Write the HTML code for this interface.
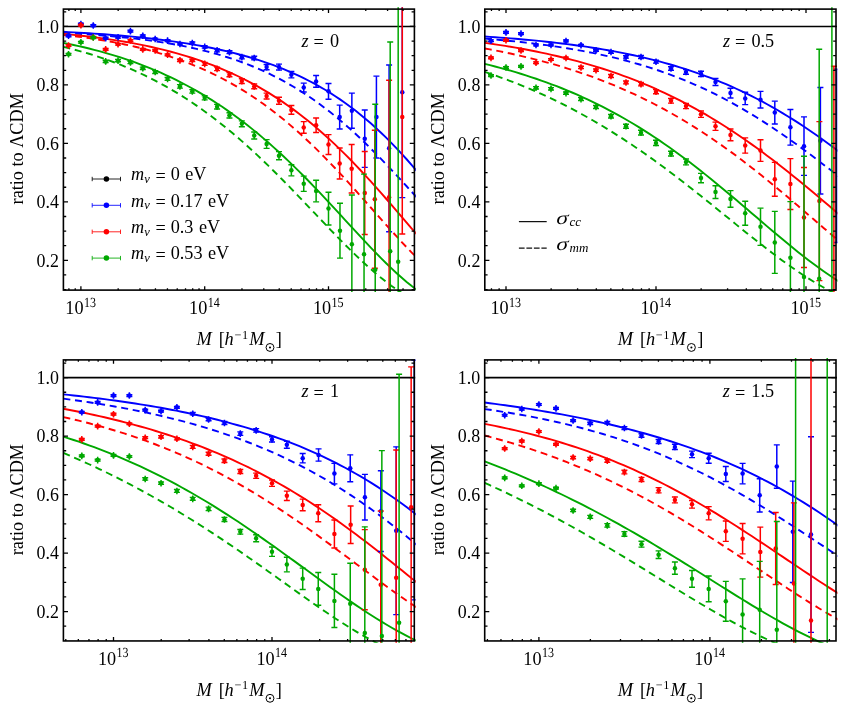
<!DOCTYPE html>
<html><head><meta charset="utf-8"><title>ratio to LCDM</title>
<style>
html,body{margin:0;padding:0;background:#fff;}
body{width:843px;height:706px;overflow:hidden;font-family:"Liberation Serif",serif;}
svg{display:block;transform:translateZ(0);will-change:transform;}
svg text{font-family:"Liberation Serif",serif;fill:#000;stroke:none;}
svg text.gp{text-rendering:geometricPrecision;}
</style></head><body>
<svg width="843" height="706" viewBox="0 0 843 706">
<rect width="843" height="706" fill="#fff"/>
<clipPath id="clip0"><rect x="62.2" y="7.2" width="353.6" height="284.8"/></clipPath>
<g clip-path="url(#clip0)">
<line x1="63.4" y1="26.45" x2="415.4" y2="26.45" stroke="#000" stroke-width="1.6"/>
<path d="M63.4,31.81 L68.52,32.08 L73.65,32.35 L78.77,32.64 L83.89,32.94 L89.01,33.26 L94.14,33.59 L99.26,33.94 L104.38,34.3 L109.51,34.69 L114.63,35.09 L119.75,35.51 L124.87,35.96 L130,36.42 L135.12,36.91 L140.24,37.43 L145.37,37.96 L150.49,38.53 L155.61,39.13 L160.73,39.75 L165.86,40.4 L170.98,41.09 L176.1,41.82 L181.23,42.58 L186.35,43.37 L191.47,44.21 L196.59,45.09 L201.72,46.02 L206.84,46.99 L211.96,48.01 L217.09,49.09 L222.21,50.22 L227.33,51.4 L232.45,52.65 L237.58,53.96 L242.7,55.33 L247.82,56.78 L252.95,58.3 L258.07,59.89 L263.19,61.57 L268.31,63.33 L273.44,65.18 L278.56,67.12 L283.68,69.16 L288.8,71.31 L293.93,73.55 L299.05,75.91 L304.17,78.39 L309.3,80.99 L314.42,83.71 L319.54,86.56 L324.66,89.55 L329.79,92.68 L334.91,95.95 L340.03,99.38 L345.16,102.96 L350.28,106.7 L355.4,110.6 L360.52,114.68 L365.65,118.92 L370.77,123.34 L375.89,127.94 L381.02,132.71 L386.14,137.67 L391.26,142.8 L396.38,148.11 L401.51,153.6 L406.63,159.26 L411.75,165.08 L416.88,171.06" fill="none" stroke="#0000ff" stroke-width="1.9"/>
<path d="M63.4,32.86 L68.52,33.14 L73.65,33.44 L78.77,33.75 L83.89,34.08 L89.01,34.43 L94.14,34.8 L99.26,35.19 L104.38,35.6 L109.51,36.04 L114.63,36.5 L119.75,36.99 L124.87,37.51 L130,38.06 L135.12,38.64 L140.24,39.26 L145.37,39.91 L150.49,40.6 L155.61,41.33 L160.73,42.11 L165.86,42.92 L170.98,43.79 L176.1,44.7 L181.23,45.67 L186.35,46.69 L191.47,47.77 L196.59,48.91 L201.72,50.12 L206.84,51.39 L211.96,52.74 L217.09,54.16 L222.21,55.66 L227.33,57.24 L232.45,58.9 L237.58,60.66 L242.7,62.51 L247.82,64.46 L252.95,66.5 L258.07,68.66 L263.19,70.92 L268.31,73.29 L273.44,75.78 L278.56,78.4 L283.68,81.13 L288.8,84 L293.93,86.99 L299.05,90.12 L304.17,93.39 L309.3,96.79 L314.42,100.34 L319.54,104.02 L324.66,107.85 L329.79,111.82 L334.91,115.93 L340.03,120.19 L345.16,124.58 L350.28,129.11 L355.4,133.78 L360.52,138.57 L365.65,143.48 L370.77,148.52 L375.89,153.66 L381.02,158.9 L386.14,164.24 L391.26,169.65 L396.38,175.13 L401.51,180.68 L406.63,186.26 L411.75,191.87 L416.88,197.5" fill="none" stroke="#0000ff" stroke-width="1.9" stroke-dasharray="7,4.7"/>
<path d="M63.4,33.91 L68.52,34.4 L73.65,34.9 L78.77,35.44 L83.89,36 L89.01,36.6 L94.14,37.23 L99.26,37.89 L104.38,38.59 L109.51,39.33 L114.63,40.1 L119.75,40.92 L124.87,41.78 L130,42.68 L135.12,43.63 L140.24,44.62 L145.37,45.67 L150.49,46.77 L155.61,47.93 L160.73,49.14 L165.86,50.41 L170.98,51.75 L176.1,53.15 L181.23,54.61 L186.35,56.15 L191.47,57.76 L196.59,59.44 L201.72,61.21 L206.84,63.05 L211.96,64.98 L217.09,67 L222.21,69.1 L227.33,71.3 L232.45,73.6 L237.58,76 L242.7,78.5 L247.82,81.11 L252.95,83.82 L258.07,86.66 L263.19,89.6 L268.31,92.67 L273.44,95.85 L278.56,99.17 L283.68,102.61 L288.8,106.18 L293.93,109.88 L299.05,113.71 L304.17,117.68 L309.3,121.79 L314.42,126.03 L319.54,130.42 L324.66,134.94 L329.79,139.59 L334.91,144.38 L340.03,149.31 L345.16,154.36 L350.28,159.54 L355.4,164.84 L360.52,170.25 L365.65,175.78 L370.77,181.4 L375.89,187.11 L381.02,192.9 L386.14,198.75 L391.26,204.66 L396.38,210.61 L401.51,216.58 L406.63,222.55 L411.75,228.51 L416.88,234.43" fill="none" stroke="#ff0000" stroke-width="1.9"/>
<path d="M63.4,34.94 L68.52,35.51 L73.65,36.11 L78.77,36.75 L83.89,37.43 L89.01,38.15 L94.14,38.91 L99.26,39.71 L104.38,40.56 L109.51,41.45 L114.63,42.4 L119.75,43.39 L124.87,44.45 L130,45.55 L135.12,46.72 L140.24,47.95 L145.37,49.25 L150.49,50.61 L155.61,52.05 L160.73,53.55 L165.86,55.14 L170.98,56.8 L176.1,58.55 L181.23,60.38 L186.35,62.3 L191.47,64.31 L196.59,66.41 L201.72,68.62 L206.84,70.92 L211.96,73.34 L217.09,75.85 L222.21,78.48 L227.33,81.22 L232.45,84.08 L237.58,87.06 L242.7,90.16 L247.82,93.39 L252.95,96.74 L258.07,100.22 L263.19,103.83 L268.31,107.57 L273.44,111.44 L278.56,115.45 L283.68,119.59 L288.8,123.87 L293.93,128.27 L299.05,132.81 L304.17,137.48 L309.3,142.27 L314.42,147.19 L319.54,152.22 L324.66,157.37 L329.79,162.63 L334.91,167.98 L340.03,173.43 L345.16,178.97 L350.28,184.57 L355.4,190.24 L360.52,195.96 L365.65,201.72 L370.77,207.5 L375.89,213.29 L381.02,219.08 L386.14,224.84 L391.26,230.55 L396.38,236.21 L401.51,241.79 L406.63,247.27 L411.75,252.64 L416.88,257.87" fill="none" stroke="#ff0000" stroke-width="1.9" stroke-dasharray="7,4.7"/>
<path d="M63.4,42.9 L68.52,43.92 L73.65,44.99 L78.77,46.12 L83.89,47.29 L89.01,48.52 L94.14,49.81 L99.26,51.16 L104.38,52.57 L109.51,54.05 L114.63,55.59 L119.75,57.19 L124.87,58.87 L130,60.62 L135.12,62.44 L140.24,64.34 L145.37,66.32 L150.49,68.38 L155.61,70.52 L160.73,72.74 L165.86,75.05 L170.98,77.45 L176.1,79.95 L181.23,82.53 L186.35,85.22 L191.47,87.99 L196.59,90.87 L201.72,93.85 L206.84,96.94 L211.96,100.13 L217.09,103.43 L222.21,106.83 L227.33,110.35 L232.45,113.98 L237.58,117.72 L242.7,121.58 L247.82,125.54 L252.95,129.63 L258.07,133.82 L263.19,138.14 L268.31,142.56 L273.44,147.09 L278.56,151.74 L283.68,156.49 L288.8,161.35 L293.93,166.31 L299.05,171.36 L304.17,176.51 L309.3,181.74 L314.42,187.05 L319.54,192.43 L324.66,197.87 L329.79,203.36 L334.91,208.9 L340.03,214.46 L345.16,220.04 L350.28,225.61 L355.4,231.17 L360.52,236.7 L365.65,242.19 L370.77,247.6 L375.89,252.93 L381.02,258.15 L386.14,263.24 L391.26,268.18 L396.38,272.96 L401.51,277.55 L406.63,281.94 L411.75,286.09 L416.88,290.01" fill="none" stroke="#00a800" stroke-width="1.9"/>
<path d="M63.4,46.86 L68.52,48.11 L73.65,49.43 L78.77,50.81 L83.89,52.26 L89.01,53.78 L94.14,55.37 L99.26,57.04 L104.38,58.78 L109.51,60.59 L114.63,62.49 L119.75,64.48 L124.87,66.54 L130,68.7 L135.12,70.95 L140.24,73.28 L145.37,75.72 L150.49,78.24 L155.61,80.87 L160.73,83.6 L165.86,86.43 L170.98,89.36 L176.1,92.4 L181.23,95.54 L186.35,98.8 L191.47,102.16 L196.59,105.64 L201.72,109.22 L206.84,112.92 L211.96,116.73 L217.09,120.65 L222.21,124.68 L227.33,128.82 L232.45,133.07 L237.58,137.43 L242.7,141.89 L247.82,146.46 L252.95,151.13 L258.07,155.89 L263.19,160.74 L268.31,165.68 L273.44,170.71 L278.56,175.8 L283.68,180.97 L288.8,186.2 L293.93,191.48 L299.05,196.8 L304.17,202.16 L309.3,207.54 L314.42,212.93 L319.54,218.32 L324.66,223.7 L329.79,229.05 L334.91,234.35 L340.03,239.6 L345.16,244.78 L350.28,249.88 L355.4,254.87 L360.52,259.74 L365.65,264.48 L370.77,269.07 L375.89,273.49 L381.02,277.74 L386.14,281.79 L391.26,285.65 L396.38,289.28 L401.51,292.7 L406.63,295.88 L411.75,298.83 L416.88,301.54" fill="none" stroke="#00a800" stroke-width="1.9" stroke-dasharray="7,4.7"/>
<path d="M68.52,32.51 V39.11" stroke="#0000ff" stroke-width="1.5" fill="none"/>
<path d="M65.52,34.93 H71.52 M65.52,36.68 H71.52" stroke="#0000ff" stroke-width="1.4" fill="none"/>
<circle cx="68.52" cy="35.81" r="2.25" fill="#0000ff"/>
<path d="M80.9,20.81 V27.41" stroke="#0000ff" stroke-width="1.5" fill="none"/>
<path d="M77.9,23.23 H83.9 M77.9,24.99 H83.9" stroke="#0000ff" stroke-width="1.4" fill="none"/>
<circle cx="80.9" cy="24.11" r="2.25" fill="#0000ff"/>
<path d="M93.28,22.27 V28.87" stroke="#0000ff" stroke-width="1.5" fill="none"/>
<path d="M90.28,24.7 H96.28 M90.28,26.45 H96.28" stroke="#0000ff" stroke-width="1.4" fill="none"/>
<circle cx="93.28" cy="25.57" r="2.25" fill="#0000ff"/>
<path d="M105.66,34.84 V41.44" stroke="#0000ff" stroke-width="1.5" fill="none"/>
<path d="M102.66,37.27 H108.66 M102.66,39.02 H108.66" stroke="#0000ff" stroke-width="1.4" fill="none"/>
<circle cx="105.66" cy="38.14" r="2.25" fill="#0000ff"/>
<path d="M118.04,33.97 V40.57" stroke="#0000ff" stroke-width="1.5" fill="none"/>
<path d="M115.04,36.39 H121.04 M115.04,38.14 H121.04" stroke="#0000ff" stroke-width="1.4" fill="none"/>
<circle cx="118.04" cy="37.27" r="2.25" fill="#0000ff"/>
<path d="M130.42,27.83 V34.43" stroke="#0000ff" stroke-width="1.5" fill="none"/>
<path d="M127.42,30.25 H133.42 M127.42,32 H133.42" stroke="#0000ff" stroke-width="1.4" fill="none"/>
<circle cx="130.42" cy="31.13" r="2.25" fill="#0000ff"/>
<path d="M142.8,32.51 V39.11" stroke="#0000ff" stroke-width="1.5" fill="none"/>
<path d="M139.8,34.93 H145.8 M139.8,36.68 H145.8" stroke="#0000ff" stroke-width="1.4" fill="none"/>
<circle cx="142.8" cy="35.81" r="2.25" fill="#0000ff"/>
<path d="M155.18,35.72 V42.32" stroke="#0000ff" stroke-width="1.5" fill="none"/>
<path d="M152.18,38.14 H158.18 M152.18,39.9 H158.18" stroke="#0000ff" stroke-width="1.4" fill="none"/>
<circle cx="155.18" cy="39.02" r="2.25" fill="#0000ff"/>
<path d="M167.56,37.33 V43.93" stroke="#0000ff" stroke-width="1.5" fill="none"/>
<path d="M164.56,39.75 H170.56 M164.56,41.51 H170.56" stroke="#0000ff" stroke-width="1.4" fill="none"/>
<circle cx="167.56" cy="40.63" r="2.25" fill="#0000ff"/>
<path d="M179.94,40.69 V47.29" stroke="#0000ff" stroke-width="1.5" fill="none"/>
<path d="M176.94,43.11 H182.94 M176.94,44.87 H182.94" stroke="#0000ff" stroke-width="1.4" fill="none"/>
<circle cx="179.94" cy="43.99" r="2.25" fill="#0000ff"/>
<path d="M192.32,39.81 V46.41" stroke="#0000ff" stroke-width="1.5" fill="none"/>
<path d="M189.32,41.94 H195.32 M189.32,44.28 H195.32" stroke="#0000ff" stroke-width="1.4" fill="none"/>
<circle cx="192.32" cy="43.11" r="2.25" fill="#0000ff"/>
<path d="M204.7,43.61 V50.21" stroke="#0000ff" stroke-width="1.5" fill="none"/>
<path d="M201.7,45.75 H207.7 M201.7,48.08 H207.7" stroke="#0000ff" stroke-width="1.4" fill="none"/>
<circle cx="204.7" cy="46.91" r="2.25" fill="#0000ff"/>
<path d="M217.08,47.12 V53.72" stroke="#0000ff" stroke-width="1.5" fill="none"/>
<path d="M214.08,48.96 H220.08 M214.08,51.88 H220.08" stroke="#0000ff" stroke-width="1.4" fill="none"/>
<circle cx="217.08" cy="50.42" r="2.25" fill="#0000ff"/>
<path d="M229.46,48.88 V55.48" stroke="#0000ff" stroke-width="1.5" fill="none"/>
<path d="M226.46,50.72 H232.46 M226.46,53.64 H232.46" stroke="#0000ff" stroke-width="1.4" fill="none"/>
<circle cx="229.46" cy="52.18" r="2.25" fill="#0000ff"/>
<path d="M241.84,53.85 V60.45" stroke="#0000ff" stroke-width="1.5" fill="none"/>
<path d="M238.84,55.39 H244.84 M238.84,58.9 H244.84" stroke="#0000ff" stroke-width="1.4" fill="none"/>
<circle cx="241.84" cy="57.15" r="2.25" fill="#0000ff"/>
<path d="M254.22,54.72 V61.32" stroke="#0000ff" stroke-width="1.5" fill="none"/>
<path d="M251.22,56.27 H257.22 M251.22,59.78 H257.22" stroke="#0000ff" stroke-width="1.4" fill="none"/>
<circle cx="254.22" cy="58.02" r="2.25" fill="#0000ff"/>
<path d="M266.6,63.79 V70.39" stroke="#0000ff" stroke-width="1.5" fill="none"/>
<path d="M263.6,64.46 H269.6 M263.6,69.72 H269.6" stroke="#0000ff" stroke-width="1.4" fill="none"/>
<circle cx="266.6" cy="67.09" r="2.25" fill="#0000ff"/>
<path d="M278.98,63.79 V70.39" stroke="#0000ff" stroke-width="1.5" fill="none"/>
<path d="M275.98,64.16 H281.98 M275.98,70.01 H281.98" stroke="#0000ff" stroke-width="1.4" fill="none"/>
<circle cx="278.98" cy="67.09" r="2.25" fill="#0000ff"/>
<path d="M291.36,71.39 V77.99" stroke="#0000ff" stroke-width="1.5" fill="none"/>
<path d="M288.36,71.47 H294.36 M288.36,77.9 H294.36" stroke="#0000ff" stroke-width="1.4" fill="none"/>
<circle cx="291.36" cy="74.69" r="2.25" fill="#0000ff"/>
<path d="M303.74,83.17 V91.94" stroke="#0000ff" stroke-width="1.5" fill="none"/>
<path d="M300.74,83.17 H306.74 M300.74,91.94 H306.74" stroke="#0000ff" stroke-width="1.4" fill="none"/>
<circle cx="303.74" cy="87.55" r="2.25" fill="#0000ff"/>
<path d="M316.12,75.56 V87.26" stroke="#0000ff" stroke-width="1.5" fill="none"/>
<path d="M313.12,75.56 H319.12 M313.12,87.26 H319.12" stroke="#0000ff" stroke-width="1.4" fill="none"/>
<circle cx="316.12" cy="81.41" r="2.25" fill="#0000ff"/>
<path d="M328.5,83.46 V99.25" stroke="#0000ff" stroke-width="1.5" fill="none"/>
<path d="M325.5,83.46 H331.5 M325.5,99.25 H331.5" stroke="#0000ff" stroke-width="1.4" fill="none"/>
<circle cx="328.5" cy="91.35" r="2.25" fill="#0000ff"/>
<path d="M339.68,105.09 V129.06" stroke="#0000ff" stroke-width="1.5" fill="none"/>
<path d="M336.68,105.09 H342.68 M336.68,129.06 H342.68" stroke="#0000ff" stroke-width="1.4" fill="none"/>
<circle cx="339.68" cy="117.08" r="2.25" fill="#0000ff"/>
<path d="M351.86,93.11 V128.19" stroke="#0000ff" stroke-width="1.5" fill="none"/>
<path d="M348.86,93.11 H354.86 M348.86,128.19 H354.86" stroke="#0000ff" stroke-width="1.4" fill="none"/>
<circle cx="351.86" cy="110.65" r="2.25" fill="#0000ff"/>
<path d="M364.74,110.06 V167.36" stroke="#0000ff" stroke-width="1.5" fill="none"/>
<path d="M361.74,110.06 H367.74 M361.74,167.36 H367.74" stroke="#0000ff" stroke-width="1.4" fill="none"/>
<circle cx="364.74" cy="138.71" r="2.25" fill="#0000ff"/>
<path d="M376.42,76.15 V158.01" stroke="#0000ff" stroke-width="1.5" fill="none"/>
<path d="M373.42,76.15 H379.42 M373.42,158.01 H379.42" stroke="#0000ff" stroke-width="1.4" fill="none"/>
<circle cx="376.42" cy="117.08" r="2.25" fill="#0000ff"/>
<path d="M389.1,65.04 V231.68" stroke="#0000ff" stroke-width="1.5" fill="none"/>
<path d="M386.1,65.04 H392.1 M386.1,231.68 H392.1" stroke="#0000ff" stroke-width="1.4" fill="none"/>
<circle cx="389.1" cy="148.36" r="2.25" fill="#0000ff"/>
<path d="M402.28,-12.9 V197.59" stroke="#0000ff" stroke-width="1.5" fill="none"/>
<path d="M399.28,-12.9 H405.28 M399.28,197.59 H405.28" stroke="#0000ff" stroke-width="1.4" fill="none"/>
<circle cx="402.28" cy="92.35" r="2.25" fill="#0000ff"/>
<path d="M68.52,42.15 V48.75" stroke="#ff0000" stroke-width="1.5" fill="none"/>
<path d="M65.52,44.58 H71.52 M65.52,46.33 H71.52" stroke="#ff0000" stroke-width="1.4" fill="none"/>
<circle cx="68.52" cy="45.45" r="2.25" fill="#ff0000"/>
<path d="M80.9,21.98 V28.58" stroke="#ff0000" stroke-width="1.5" fill="none"/>
<path d="M77.9,24.4 H83.9 M77.9,26.16 H83.9" stroke="#ff0000" stroke-width="1.4" fill="none"/>
<circle cx="80.9" cy="25.28" r="2.25" fill="#ff0000"/>
<path d="M93.28,33.97 V40.57" stroke="#ff0000" stroke-width="1.5" fill="none"/>
<path d="M90.28,36.39 H96.28 M90.28,38.14 H96.28" stroke="#ff0000" stroke-width="1.4" fill="none"/>
<circle cx="93.28" cy="37.27" r="2.25" fill="#ff0000"/>
<path d="M105.66,46.1 V52.7" stroke="#ff0000" stroke-width="1.5" fill="none"/>
<path d="M102.66,48.52 H108.66 M102.66,50.28 H108.66" stroke="#ff0000" stroke-width="1.4" fill="none"/>
<circle cx="105.66" cy="49.4" r="2.25" fill="#ff0000"/>
<path d="M118.04,40.98 V47.58" stroke="#ff0000" stroke-width="1.5" fill="none"/>
<path d="M115.04,43.41 H121.04 M115.04,45.16 H121.04" stroke="#ff0000" stroke-width="1.4" fill="none"/>
<circle cx="118.04" cy="44.28" r="2.25" fill="#ff0000"/>
<path d="M130.42,37.18 V43.78" stroke="#ff0000" stroke-width="1.5" fill="none"/>
<path d="M127.42,39.61 H133.42 M127.42,41.36 H133.42" stroke="#ff0000" stroke-width="1.4" fill="none"/>
<circle cx="130.42" cy="40.48" r="2.25" fill="#ff0000"/>
<path d="M142.8,46.1 V52.7" stroke="#ff0000" stroke-width="1.5" fill="none"/>
<path d="M139.8,48.52 H145.8 M139.8,50.28 H145.8" stroke="#ff0000" stroke-width="1.4" fill="none"/>
<circle cx="142.8" cy="49.4" r="2.25" fill="#ff0000"/>
<path d="M155.18,47.12 V53.72" stroke="#ff0000" stroke-width="1.5" fill="none"/>
<path d="M152.18,49.55 H158.18 M152.18,51.3 H158.18" stroke="#ff0000" stroke-width="1.4" fill="none"/>
<circle cx="155.18" cy="50.42" r="2.25" fill="#ff0000"/>
<path d="M167.56,51.51 V58.11" stroke="#ff0000" stroke-width="1.5" fill="none"/>
<path d="M164.56,53.93 H170.56 M164.56,55.68 H170.56" stroke="#ff0000" stroke-width="1.4" fill="none"/>
<circle cx="167.56" cy="54.81" r="2.25" fill="#ff0000"/>
<path d="M179.94,57.06 V63.66" stroke="#ff0000" stroke-width="1.5" fill="none"/>
<path d="M176.94,59.19 H182.94 M176.94,61.53 H182.94" stroke="#ff0000" stroke-width="1.4" fill="none"/>
<circle cx="179.94" cy="60.36" r="2.25" fill="#ff0000"/>
<path d="M192.32,57.06 V63.66" stroke="#ff0000" stroke-width="1.5" fill="none"/>
<path d="M189.32,59.19 H195.32 M189.32,61.53 H195.32" stroke="#ff0000" stroke-width="1.4" fill="none"/>
<circle cx="192.32" cy="60.36" r="2.25" fill="#ff0000"/>
<path d="M204.7,60.57 V67.17" stroke="#ff0000" stroke-width="1.5" fill="none"/>
<path d="M201.7,62.41 H207.7 M201.7,65.33 H207.7" stroke="#ff0000" stroke-width="1.4" fill="none"/>
<circle cx="204.7" cy="63.87" r="2.25" fill="#ff0000"/>
<path d="M217.08,65.54 V72.14" stroke="#ff0000" stroke-width="1.5" fill="none"/>
<path d="M214.08,67.09 H220.08 M214.08,70.59 H220.08" stroke="#ff0000" stroke-width="1.4" fill="none"/>
<circle cx="217.08" cy="68.84" r="2.25" fill="#ff0000"/>
<path d="M229.46,71.39 V77.99" stroke="#ff0000" stroke-width="1.5" fill="none"/>
<path d="M226.46,72.64 H232.46 M226.46,76.73 H232.46" stroke="#ff0000" stroke-width="1.4" fill="none"/>
<circle cx="229.46" cy="74.69" r="2.25" fill="#ff0000"/>
<path d="M241.84,77.82 V84.42" stroke="#ff0000" stroke-width="1.5" fill="none"/>
<path d="M238.84,78.78 H244.84 M238.84,83.46 H244.84" stroke="#ff0000" stroke-width="1.4" fill="none"/>
<circle cx="241.84" cy="81.12" r="2.25" fill="#ff0000"/>
<path d="M254.22,83.08 V89.68" stroke="#ff0000" stroke-width="1.5" fill="none"/>
<path d="M251.22,84.04 H257.22 M251.22,88.72 H257.22" stroke="#ff0000" stroke-width="1.4" fill="none"/>
<circle cx="254.22" cy="86.38" r="2.25" fill="#ff0000"/>
<path d="M266.6,92.73 V99.33" stroke="#ff0000" stroke-width="1.5" fill="none"/>
<path d="M263.6,93.11 H269.6 M263.6,98.95 H269.6" stroke="#ff0000" stroke-width="1.4" fill="none"/>
<circle cx="266.6" cy="96.03" r="2.25" fill="#ff0000"/>
<path d="M278.98,97.2 V104.22" stroke="#ff0000" stroke-width="1.5" fill="none"/>
<path d="M275.98,97.2 H281.98 M275.98,104.22 H281.98" stroke="#ff0000" stroke-width="1.4" fill="none"/>
<circle cx="278.98" cy="100.71" r="2.25" fill="#ff0000"/>
<path d="M291.36,105.5 V114.27" stroke="#ff0000" stroke-width="1.5" fill="none"/>
<path d="M288.36,105.5 H294.36 M288.36,114.27 H294.36" stroke="#ff0000" stroke-width="1.4" fill="none"/>
<circle cx="291.36" cy="109.89" r="2.25" fill="#ff0000"/>
<path d="M303.74,121.58 V133.27" stroke="#ff0000" stroke-width="1.5" fill="none"/>
<path d="M300.74,121.58 H306.74 M300.74,133.27 H306.74" stroke="#ff0000" stroke-width="1.4" fill="none"/>
<circle cx="303.74" cy="127.43" r="2.25" fill="#ff0000"/>
<path d="M316.12,117.96 V132.57" stroke="#ff0000" stroke-width="1.5" fill="none"/>
<path d="M313.12,117.96 H319.12 M313.12,132.57 H319.12" stroke="#ff0000" stroke-width="1.4" fill="none"/>
<circle cx="316.12" cy="125.26" r="2.25" fill="#ff0000"/>
<path d="M328.5,134.62 V154.5" stroke="#ff0000" stroke-width="1.5" fill="none"/>
<path d="M325.5,134.62 H331.5 M325.5,154.5 H331.5" stroke="#ff0000" stroke-width="1.4" fill="none"/>
<circle cx="328.5" cy="144.56" r="2.25" fill="#ff0000"/>
<path d="M339.68,148.07 V179.06" stroke="#ff0000" stroke-width="1.5" fill="none"/>
<path d="M336.68,148.07 H342.68 M336.68,179.06 H342.68" stroke="#ff0000" stroke-width="1.4" fill="none"/>
<circle cx="339.68" cy="163.56" r="2.25" fill="#ff0000"/>
<path d="M351.66,144.44 V192.97" stroke="#ff0000" stroke-width="1.5" fill="none"/>
<path d="M348.66,144.44 H354.66 M348.66,192.97 H354.66" stroke="#ff0000" stroke-width="1.4" fill="none"/>
<circle cx="351.66" cy="168.71" r="2.25" fill="#ff0000"/>
<path d="M364.74,151.43 V234.46" stroke="#ff0000" stroke-width="1.5" fill="none"/>
<path d="M361.74,151.43 H367.74 M361.74,234.46 H367.74" stroke="#ff0000" stroke-width="1.4" fill="none"/>
<circle cx="364.74" cy="192.94" r="2.25" fill="#ff0000"/>
<path d="M374.82,130.23 V268.22" stroke="#ff0000" stroke-width="1.5" fill="none"/>
<path d="M371.82,130.23 H377.82 M371.82,268.22 H377.82" stroke="#ff0000" stroke-width="1.4" fill="none"/>
<circle cx="374.82" cy="199.23" r="2.25" fill="#ff0000"/>
<path d="M389.1,80.24 V314.12" stroke="#ff0000" stroke-width="1.5" fill="none"/>
<path d="M386.1,80.24 H392.1 M386.1,314.12 H392.1" stroke="#ff0000" stroke-width="1.4" fill="none"/>
<circle cx="389.1" cy="197.18" r="2.25" fill="#ff0000"/>
<path d="M402.28,0.14 V234.02" stroke="#ff0000" stroke-width="1.5" fill="none"/>
<path d="M399.28,0.14 H405.28 M399.28,234.02 H405.28" stroke="#ff0000" stroke-width="1.4" fill="none"/>
<circle cx="402.28" cy="117.08" r="2.25" fill="#ff0000"/>
<path d="M68.52,50.92 V57.52" stroke="#00a800" stroke-width="1.5" fill="none"/>
<path d="M65.52,53.35 H71.52 M65.52,55.1 H71.52" stroke="#00a800" stroke-width="1.4" fill="none"/>
<circle cx="68.52" cy="54.22" r="2.25" fill="#00a800"/>
<path d="M80.9,38.94 V45.54" stroke="#00a800" stroke-width="1.5" fill="none"/>
<path d="M77.9,41.36 H83.9 M77.9,43.11 H83.9" stroke="#00a800" stroke-width="1.4" fill="none"/>
<circle cx="80.9" cy="42.24" r="2.25" fill="#00a800"/>
<path d="M93.28,34.26 V40.86" stroke="#00a800" stroke-width="1.5" fill="none"/>
<path d="M90.28,36.68 H96.28 M90.28,38.44 H96.28" stroke="#00a800" stroke-width="1.4" fill="none"/>
<circle cx="93.28" cy="37.56" r="2.25" fill="#00a800"/>
<path d="M105.66,58.09 V64.69" stroke="#00a800" stroke-width="1.5" fill="none"/>
<path d="M102.66,60.22 H108.66 M102.66,62.56 H108.66" stroke="#00a800" stroke-width="1.4" fill="none"/>
<circle cx="105.66" cy="61.39" r="2.25" fill="#00a800"/>
<path d="M118.04,57.35 V63.95" stroke="#00a800" stroke-width="1.5" fill="none"/>
<path d="M115.04,59.49 H121.04 M115.04,61.82 H121.04" stroke="#00a800" stroke-width="1.4" fill="none"/>
<circle cx="118.04" cy="60.65" r="2.25" fill="#00a800"/>
<path d="M130.42,59.11 V65.71" stroke="#00a800" stroke-width="1.5" fill="none"/>
<path d="M127.42,61.24 H133.42 M127.42,63.58 H133.42" stroke="#00a800" stroke-width="1.4" fill="none"/>
<circle cx="130.42" cy="62.41" r="2.25" fill="#00a800"/>
<path d="M142.8,64.96 V71.56" stroke="#00a800" stroke-width="1.5" fill="none"/>
<path d="M139.8,67.09 H145.8 M139.8,69.43 H145.8" stroke="#00a800" stroke-width="1.4" fill="none"/>
<circle cx="142.8" cy="68.26" r="2.25" fill="#00a800"/>
<path d="M155.18,68.76 V75.36" stroke="#00a800" stroke-width="1.5" fill="none"/>
<path d="M152.18,70.59 H158.18 M152.18,73.52 H158.18" stroke="#00a800" stroke-width="1.4" fill="none"/>
<circle cx="155.18" cy="72.06" r="2.25" fill="#00a800"/>
<path d="M167.56,75.63 V82.23" stroke="#00a800" stroke-width="1.5" fill="none"/>
<path d="M164.56,77.47 H170.56 M164.56,80.39 H170.56" stroke="#00a800" stroke-width="1.4" fill="none"/>
<circle cx="167.56" cy="78.93" r="2.25" fill="#00a800"/>
<path d="M179.94,83.08 V89.68" stroke="#00a800" stroke-width="1.5" fill="none"/>
<path d="M176.94,84.63 H182.94 M176.94,88.14 H182.94" stroke="#00a800" stroke-width="1.4" fill="none"/>
<circle cx="179.94" cy="86.38" r="2.25" fill="#00a800"/>
<path d="M192.32,88.05 V94.65" stroke="#00a800" stroke-width="1.5" fill="none"/>
<path d="M189.32,89.6 H195.32 M189.32,93.11 H195.32" stroke="#00a800" stroke-width="1.4" fill="none"/>
<circle cx="192.32" cy="91.35" r="2.25" fill="#00a800"/>
<path d="M204.7,94.48 V101.08" stroke="#00a800" stroke-width="1.5" fill="none"/>
<path d="M201.7,95.74 H207.7 M201.7,99.83 H207.7" stroke="#00a800" stroke-width="1.4" fill="none"/>
<circle cx="204.7" cy="97.78" r="2.25" fill="#00a800"/>
<path d="M217.08,103.4 V110" stroke="#00a800" stroke-width="1.5" fill="none"/>
<path d="M214.08,104.36 H220.08 M214.08,109.04 H220.08" stroke="#00a800" stroke-width="1.4" fill="none"/>
<circle cx="217.08" cy="106.7" r="2.25" fill="#00a800"/>
<path d="M229.46,112.02 V118.62" stroke="#00a800" stroke-width="1.5" fill="none"/>
<path d="M226.46,112.69 H232.46 M226.46,117.96 H232.46" stroke="#00a800" stroke-width="1.4" fill="none"/>
<circle cx="229.46" cy="115.32" r="2.25" fill="#00a800"/>
<path d="M241.84,120.5 V127.1" stroke="#00a800" stroke-width="1.5" fill="none"/>
<path d="M238.84,120.88 H244.84 M238.84,126.73 H244.84" stroke="#00a800" stroke-width="1.4" fill="none"/>
<circle cx="241.84" cy="123.8" r="2.25" fill="#00a800"/>
<path d="M254.22,131.99 V139" stroke="#00a800" stroke-width="1.5" fill="none"/>
<path d="M251.22,131.99 H257.22 M251.22,139 H257.22" stroke="#00a800" stroke-width="1.4" fill="none"/>
<circle cx="254.22" cy="135.5" r="2.25" fill="#00a800"/>
<path d="M266.6,139.59 V148.36" stroke="#00a800" stroke-width="1.5" fill="none"/>
<path d="M263.6,139.59 H269.6 M263.6,148.36 H269.6" stroke="#00a800" stroke-width="1.4" fill="none"/>
<circle cx="266.6" cy="143.97" r="2.25" fill="#00a800"/>
<path d="M278.98,151.58 V159.76" stroke="#00a800" stroke-width="1.5" fill="none"/>
<path d="M275.98,151.58 H281.98 M275.98,159.76 H281.98" stroke="#00a800" stroke-width="1.4" fill="none"/>
<circle cx="278.98" cy="155.67" r="2.25" fill="#00a800"/>
<path d="M291.36,164.73 V175.84" stroke="#00a800" stroke-width="1.5" fill="none"/>
<path d="M288.36,164.73 H294.36 M288.36,175.84 H294.36" stroke="#00a800" stroke-width="1.4" fill="none"/>
<circle cx="291.36" cy="170.29" r="2.25" fill="#00a800"/>
<path d="M303.74,176.13 V191.34" stroke="#00a800" stroke-width="1.5" fill="none"/>
<path d="M300.74,176.13 H306.74 M300.74,191.34 H306.74" stroke="#00a800" stroke-width="1.4" fill="none"/>
<circle cx="303.74" cy="183.73" r="2.25" fill="#00a800"/>
<path d="M316.12,180.23 V201.86" stroke="#00a800" stroke-width="1.5" fill="none"/>
<path d="M313.12,180.23 H319.12 M313.12,201.86 H319.12" stroke="#00a800" stroke-width="1.4" fill="none"/>
<circle cx="316.12" cy="191.04" r="2.25" fill="#00a800"/>
<path d="M328.5,192.21 V224.96" stroke="#00a800" stroke-width="1.5" fill="none"/>
<path d="M325.5,192.21 H331.5 M325.5,224.96 H331.5" stroke="#00a800" stroke-width="1.4" fill="none"/>
<circle cx="328.5" cy="208.58" r="2.25" fill="#00a800"/>
<path d="M339.98,203.2 V258.17" stroke="#00a800" stroke-width="1.5" fill="none"/>
<path d="M336.98,203.2 H342.98 M336.98,258.17 H342.98" stroke="#00a800" stroke-width="1.4" fill="none"/>
<circle cx="339.98" cy="230.69" r="2.25" fill="#00a800"/>
<path d="M351.86,195.05 V293.28" stroke="#00a800" stroke-width="1.5" fill="none"/>
<path d="M348.86,195.05 H354.86 M348.86,293.28 H354.86" stroke="#00a800" stroke-width="1.4" fill="none"/>
<circle cx="351.86" cy="244.16" r="2.25" fill="#00a800"/>
<path d="M364.04,174.15 V334.35" stroke="#00a800" stroke-width="1.5" fill="none"/>
<path d="M361.04,174.15 H367.04 M361.04,334.35 H367.04" stroke="#00a800" stroke-width="1.4" fill="none"/>
<circle cx="364.04" cy="254.25" r="2.25" fill="#00a800"/>
<path d="M375.22,104.22 V435.16" stroke="#00a800" stroke-width="1.5" fill="none"/>
<path d="M372.22,104.22 H378.22 M372.22,435.16 H378.22" stroke="#00a800" stroke-width="1.4" fill="none"/>
<circle cx="375.22" cy="269.69" r="2.25" fill="#00a800"/>
<path d="M390.2,41.94 V460.59" stroke="#00a800" stroke-width="1.5" fill="none"/>
<path d="M387.2,41.94 H393.2 M387.2,460.59 H393.2" stroke="#00a800" stroke-width="1.4" fill="none"/>
<circle cx="390.2" cy="251.27" r="2.25" fill="#00a800"/>
<path d="M398.18,-30.56 V464.98" stroke="#00a800" stroke-width="1.5" fill="none"/>
<path d="M395.18,-30.56 H401.18 M395.18,464.98 H401.18" stroke="#00a800" stroke-width="1.4" fill="none"/>
<circle cx="398.18" cy="261.79" r="2.25" fill="#00a800"/>
</g>
<rect x="63.4" y="9.1" width="351" height="281" fill="none" stroke="#000" stroke-width="1.6"/>
<text x="59.1" y="266.58" text-anchor="end" font-size="17.9" letter-spacing="0.1">0.2</text>
<text x="59.1" y="208.11" text-anchor="end" font-size="17.9" letter-spacing="0.1">0.4</text>
<text x="59.1" y="149.64" text-anchor="end" font-size="17.9" letter-spacing="0.1">0.6</text>
<text x="59.1" y="91.17" text-anchor="end" font-size="17.9" letter-spacing="0.1">0.8</text>
<text x="59.1" y="32.7" text-anchor="end" font-size="17.9" letter-spacing="0.1">1.0</text>
<text x="65.3" y="314" font-size="18.2">10</text>
<text class="gp" transform="translate(83.9,306.55) scale(0.86,1)" font-size="14">13</text>
<text x="189.1" y="314" font-size="18.2">10</text>
<text class="gp" transform="translate(207.7,306.55) scale(0.86,1)" font-size="14">14</text>
<text x="312.9" y="314" font-size="18.2">10</text>
<text class="gp" transform="translate(331.5,306.55) scale(0.86,1)" font-size="14">15</text>
<path d="M63.4,289.56 h2.8 M414.4,289.56 h-2.8 M63.4,274.95 h2.8 M414.4,274.95 h-2.8 M63.4,260.33 h4.6 M414.4,260.33 h-4.6 M63.4,245.71 h2.8 M414.4,245.71 h-2.8 M63.4,231.09 h2.8 M414.4,231.09 h-2.8 M63.4,216.48 h2.8 M414.4,216.48 h-2.8 M63.4,201.86 h4.6 M414.4,201.86 h-4.6 M63.4,187.24 h2.8 M414.4,187.24 h-2.8 M63.4,172.62 h2.8 M414.4,172.62 h-2.8 M63.4,158.01 h2.8 M414.4,158.01 h-2.8 M63.4,143.39 h4.6 M414.4,143.39 h-4.6 M63.4,128.77 h2.8 M414.4,128.77 h-2.8 M63.4,114.15 h2.8 M414.4,114.15 h-2.8 M63.4,99.54 h2.8 M414.4,99.54 h-2.8 M63.4,84.92 h4.6 M414.4,84.92 h-4.6 M63.4,70.3 h2.8 M414.4,70.3 h-2.8 M63.4,55.68 h2.8 M414.4,55.68 h-2.8 M63.4,41.07 h2.8 M414.4,41.07 h-2.8 M63.4,26.45 h4.6 M414.4,26.45 h-4.6 M63.4,11.83 h2.8 M414.4,11.83 h-2.8 M68.9,290.1 v-1.9 M68.9,9.1 v1.9 M75.24,290.1 v-1.9 M75.24,9.1 v1.9 M80.9,290.1 v-3.9 M80.9,9.1 v3.9 M118.17,290.1 v-1.9 M118.17,9.1 v1.9 M139.97,290.1 v-1.9 M139.97,9.1 v1.9 M155.44,290.1 v-1.9 M155.44,9.1 v1.9 M167.43,290.1 v-1.9 M167.43,9.1 v1.9 M177.24,290.1 v-1.9 M177.24,9.1 v1.9 M185.52,290.1 v-1.9 M185.52,9.1 v1.9 M192.7,290.1 v-1.9 M192.7,9.1 v1.9 M199.04,290.1 v-1.9 M199.04,9.1 v1.9 M204.7,290.1 v-3.9 M204.7,9.1 v3.9 M241.97,290.1 v-1.9 M241.97,9.1 v1.9 M263.77,290.1 v-1.9 M263.77,9.1 v1.9 M279.24,290.1 v-1.9 M279.24,9.1 v1.9 M291.23,290.1 v-1.9 M291.23,9.1 v1.9 M301.04,290.1 v-1.9 M301.04,9.1 v1.9 M309.32,290.1 v-1.9 M309.32,9.1 v1.9 M316.5,290.1 v-1.9 M316.5,9.1 v1.9 M322.84,290.1 v-1.9 M322.84,9.1 v1.9 M328.5,290.1 v-3.9 M328.5,9.1 v3.9 M365.77,290.1 v-1.9 M365.77,9.1 v1.9 M387.57,290.1 v-1.9 M387.57,9.1 v1.9 M403.04,290.1 v-1.9 M403.04,9.1 v1.9" stroke="#000" stroke-width="1.3" fill="none"/>
<text y="345.25" font-size="18.3"><tspan x="196.4" font-style="italic">M</tspan><tspan x="218.7">[</tspan><tspan x="224.55" font-style="italic">h</tspan><tspan x="249.15" font-style="italic">M</tspan><tspan x="275.8">]</tspan></text>
<text class="gp" y="338.6" font-size="12.3"><tspan x="234.4">−</tspan><tspan x="241.9">1</tspan></text>
<circle cx="270" cy="347.45" r="3.95" fill="none" stroke="#000" stroke-width="1.0"/><circle cx="270" cy="347.45" r="1.05" fill="#000"/>
<text transform="translate(22.6,148.8) rotate(-90)" text-anchor="middle" font-size="18.2">ratio to ΛCDM</text>
<text y="46.55" font-size="18.2"><tspan x="301.5" font-style="italic">z</tspan><tspan x="313.6" dy="1.6">=</tspan><tspan x="330" dy="-1.6">0</tspan></text>
<clipPath id="clip1"><rect x="483.6" y="7.2" width="353.8" height="284.8"/></clipPath>
<g clip-path="url(#clip1)">
<line x1="484.8" y1="26.45" x2="837" y2="26.45" stroke="#000" stroke-width="1.6"/>
<path d="M484.8,36.55 L489.93,36.89 L495.07,37.24 L500.2,37.6 L505.33,37.99 L510.47,38.38 L515.6,38.8 L520.73,39.23 L525.87,39.69 L531,40.16 L536.13,40.65 L541.27,41.16 L546.4,41.7 L551.53,42.26 L556.67,42.84 L561.8,43.45 L566.93,44.09 L572.07,44.75 L577.2,45.44 L582.33,46.17 L587.47,46.92 L592.6,47.7 L597.73,48.52 L602.87,49.37 L608,50.26 L613.13,51.18 L618.27,52.15 L623.4,53.15 L628.53,54.2 L633.67,55.29 L638.8,56.43 L643.93,57.61 L649.07,58.84 L654.2,60.12 L659.33,61.45 L664.47,62.83 L669.6,64.27 L674.73,65.77 L679.87,67.32 L685,68.94 L690.13,70.61 L695.27,72.35 L700.4,74.16 L705.53,76.03 L710.67,77.97 L715.8,79.98 L720.93,82.06 L726.07,84.21 L731.2,86.44 L736.33,88.75 L741.47,91.13 L746.6,93.59 L751.73,96.13 L756.87,98.75 L762,101.45 L767.13,104.24 L772.27,107.1 L777.4,110.05 L782.53,113.08 L787.67,116.19 L792.8,119.38 L797.93,122.65 L803.07,126.01 L808.2,129.44 L813.33,132.95 L818.47,136.53 L823.6,140.19 L828.73,143.91 L833.87,147.71 L839,151.57" fill="none" stroke="#0000ff" stroke-width="1.9"/>
<path d="M484.8,38.66 L489.93,39.07 L495.07,39.51 L500.2,39.97 L505.33,40.45 L510.47,40.95 L515.6,41.47 L520.73,42.02 L525.87,42.59 L531,43.19 L536.13,43.82 L541.27,44.48 L546.4,45.16 L551.53,45.88 L556.67,46.63 L561.8,47.42 L566.93,48.23 L572.07,49.09 L577.2,49.98 L582.33,50.92 L587.47,51.89 L592.6,52.91 L597.73,53.97 L602.87,55.08 L608,56.23 L613.13,57.43 L618.27,58.69 L623.4,60 L628.53,61.36 L633.67,62.78 L638.8,64.25 L643.93,65.79 L649.07,67.38 L654.2,69.04 L659.33,70.77 L664.47,72.56 L669.6,74.42 L674.73,76.35 L679.87,78.35 L685,80.42 L690.13,82.57 L695.27,84.79 L700.4,87.09 L705.53,89.46 L710.67,91.92 L715.8,94.45 L720.93,97.06 L726.07,99.75 L731.2,102.52 L736.33,105.37 L741.47,108.3 L746.6,111.31 L751.73,114.4 L756.87,117.56 L762,120.8 L767.13,124.11 L772.27,127.49 L777.4,130.95 L782.53,134.47 L787.67,138.05 L792.8,141.7 L797.93,145.4 L803.07,149.16 L808.2,152.97 L813.33,156.82 L818.47,160.71 L823.6,164.63 L828.73,168.59 L833.87,172.57 L839,176.57" fill="none" stroke="#0000ff" stroke-width="1.9" stroke-dasharray="7,4.7"/>
<path d="M484.8,42.84 L489.93,43.56 L495.07,44.32 L500.2,45.1 L505.33,45.92 L510.47,46.77 L515.6,47.65 L520.73,48.56 L525.87,49.51 L531,50.5 L536.13,51.52 L541.27,52.58 L546.4,53.68 L551.53,54.82 L556.67,56.01 L561.8,57.23 L566.93,58.5 L572.07,59.82 L577.2,61.19 L582.33,62.6 L587.47,64.06 L592.6,65.58 L597.73,67.14 L602.87,68.76 L608,70.44 L613.13,72.17 L618.27,73.96 L623.4,75.81 L628.53,77.72 L633.67,79.69 L638.8,81.72 L643.93,83.82 L649.07,85.99 L654.2,88.22 L659.33,90.52 L664.47,92.89 L669.6,95.33 L674.73,97.84 L679.87,100.42 L685,103.08 L690.13,105.8 L695.27,108.61 L700.4,111.48 L705.53,114.44 L710.67,117.46 L715.8,120.57 L720.93,123.75 L726.07,127 L731.2,130.33 L736.33,133.74 L741.47,137.21 L746.6,140.76 L751.73,144.38 L756.87,148.08 L762,151.83 L767.13,155.66 L772.27,159.55 L777.4,163.5 L782.53,167.51 L787.67,171.57 L792.8,175.69 L797.93,179.85 L803.07,184.06 L808.2,188.3 L813.33,192.58 L818.47,196.89 L823.6,201.22 L828.73,205.57 L833.87,209.93 L839,214.29" fill="none" stroke="#ff0000" stroke-width="1.9"/>
<path d="M484.8,48.49 L489.93,49.43 L495.07,50.41 L500.2,51.42 L505.33,52.47 L510.47,53.55 L515.6,54.68 L520.73,55.84 L525.87,57.05 L531,58.3 L536.13,59.59 L541.27,60.92 L546.4,62.3 L551.53,63.73 L556.67,65.21 L561.8,66.73 L566.93,68.31 L572.07,69.93 L577.2,71.61 L582.33,73.35 L587.47,75.14 L592.6,76.98 L597.73,78.89 L602.87,80.85 L608,82.87 L613.13,84.96 L618.27,87.11 L623.4,89.32 L628.53,91.6 L633.67,93.94 L638.8,96.35 L643.93,98.83 L649.07,101.38 L654.2,104.01 L659.33,106.7 L664.47,109.46 L669.6,112.3 L674.73,115.21 L679.87,118.2 L685,121.25 L690.13,124.39 L695.27,127.6 L700.4,130.88 L705.53,134.24 L710.67,137.67 L715.8,141.18 L720.93,144.76 L726.07,148.41 L731.2,152.13 L736.33,155.92 L741.47,159.78 L746.6,163.71 L751.73,167.69 L756.87,171.74 L762,175.84 L767.13,180 L772.27,184.21 L777.4,188.46 L782.53,192.76 L787.67,197.09 L792.8,201.45 L797.93,205.84 L803.07,210.24 L808.2,214.66 L813.33,219.08 L818.47,223.5 L823.6,227.91 L828.73,232.3 L833.87,236.67 L839,240.99" fill="none" stroke="#ff0000" stroke-width="1.9" stroke-dasharray="7,4.7"/>
<path d="M484.8,63.87 L489.93,65.14 L495.07,66.46 L500.2,67.82 L505.33,69.23 L510.47,70.68 L515.6,72.19 L520.73,73.75 L525.87,75.36 L531,77.03 L536.13,78.75 L541.27,80.53 L546.4,82.37 L551.53,84.27 L556.67,86.23 L561.8,88.25 L566.93,90.34 L572.07,92.5 L577.2,94.72 L582.33,97.01 L587.47,99.37 L592.6,101.81 L597.73,104.32 L602.87,106.9 L608,109.56 L613.13,112.29 L618.27,115.1 L623.4,117.99 L628.53,120.95 L633.67,124 L638.8,127.12 L643.93,130.33 L649.07,133.61 L654.2,136.97 L659.33,140.4 L664.47,143.92 L669.6,147.51 L674.73,151.18 L679.87,154.92 L685,158.73 L690.13,162.61 L695.27,166.55 L700.4,170.56 L705.53,174.63 L710.67,178.76 L715.8,182.93 L720.93,187.16 L726.07,191.43 L731.2,195.73 L736.33,200.07 L741.47,204.43 L746.6,208.81 L751.73,213.2 L756.87,217.59 L762,221.99 L767.13,226.36 L772.27,230.72 L777.4,235.05 L782.53,239.35 L787.67,243.59 L792.8,247.78 L797.93,251.9 L803.07,255.95 L808.2,259.92 L813.33,263.79 L818.47,267.56 L823.6,271.22 L828.73,274.76 L833.87,278.18 L839,281.46" fill="none" stroke="#00a800" stroke-width="1.9"/>
<path d="M484.8,71.93 L489.93,73.66 L495.07,75.44 L500.2,77.27 L505.33,79.15 L510.47,81.09 L515.6,83.09 L520.73,85.14 L525.87,87.25 L531,89.42 L536.13,91.65 L541.27,93.94 L546.4,96.28 L551.53,98.69 L556.67,101.17 L561.8,103.7 L566.93,106.3 L572.07,108.96 L577.2,111.69 L582.33,114.48 L587.47,117.34 L592.6,120.26 L597.73,123.25 L602.87,126.3 L608,129.42 L613.13,132.6 L618.27,135.85 L623.4,139.16 L628.53,142.54 L633.67,145.97 L638.8,149.47 L643.93,153.03 L649.07,156.65 L654.2,160.33 L659.33,164.06 L664.47,167.84 L669.6,171.68 L674.73,175.56 L679.87,179.49 L685,183.46 L690.13,187.47 L695.27,191.52 L700.4,195.6 L705.53,199.7 L710.67,203.83 L715.8,207.97 L720.93,212.13 L726.07,216.29 L731.2,220.46 L736.33,224.62 L741.47,228.76 L746.6,232.89 L751.73,236.99 L756.87,241.06 L762,245.09 L767.13,249.07 L772.27,253 L777.4,256.86 L782.53,260.65 L787.67,264.36 L792.8,267.99 L797.93,271.52 L803.07,274.94 L808.2,278.26 L813.33,281.46 L818.47,284.54 L823.6,287.49 L828.73,290.3 L833.87,292.98 L839,295.51" fill="none" stroke="#00a800" stroke-width="1.9" stroke-dasharray="7,4.7"/>
<path d="M491,37.48 V44.08" stroke="#0000ff" stroke-width="1.5" fill="none"/>
<path d="M488,39.9 H494 M488,41.65 H494" stroke="#0000ff" stroke-width="1.4" fill="none"/>
<circle cx="491" cy="40.78" r="2.25" fill="#0000ff"/>
<path d="M506,29.08 V35.68" stroke="#0000ff" stroke-width="1.5" fill="none"/>
<path d="M503,31.51 H509 M503,33.26 H509" stroke="#0000ff" stroke-width="1.4" fill="none"/>
<circle cx="506" cy="32.38" r="2.25" fill="#0000ff"/>
<path d="M521,30.37 V36.97" stroke="#0000ff" stroke-width="1.5" fill="none"/>
<path d="M518,32.79 H524 M518,34.55 H524" stroke="#0000ff" stroke-width="1.4" fill="none"/>
<circle cx="521" cy="33.67" r="2.25" fill="#0000ff"/>
<path d="M536,41.71 V48.31" stroke="#0000ff" stroke-width="1.5" fill="none"/>
<path d="M533,44.14 H539 M533,45.89 H539" stroke="#0000ff" stroke-width="1.4" fill="none"/>
<circle cx="536" cy="45.01" r="2.25" fill="#0000ff"/>
<path d="M551,41.71 V48.31" stroke="#0000ff" stroke-width="1.5" fill="none"/>
<path d="M548,44.14 H554 M548,45.89 H554" stroke="#0000ff" stroke-width="1.4" fill="none"/>
<circle cx="551" cy="45.01" r="2.25" fill="#0000ff"/>
<path d="M566,37.65 V44.25" stroke="#0000ff" stroke-width="1.5" fill="none"/>
<path d="M563,40.07 H569 M563,41.83 H569" stroke="#0000ff" stroke-width="1.4" fill="none"/>
<circle cx="566" cy="40.95" r="2.25" fill="#0000ff"/>
<path d="M581,41.92 V48.52" stroke="#0000ff" stroke-width="1.5" fill="none"/>
<path d="M578,44.34 H584 M578,46.1 H584" stroke="#0000ff" stroke-width="1.4" fill="none"/>
<circle cx="581" cy="45.22" r="2.25" fill="#0000ff"/>
<path d="M596,47.12 V53.72" stroke="#0000ff" stroke-width="1.5" fill="none"/>
<path d="M593,49.55 H599 M593,51.3 H599" stroke="#0000ff" stroke-width="1.4" fill="none"/>
<circle cx="596" cy="50.42" r="2.25" fill="#0000ff"/>
<path d="M611,48.76 V55.36" stroke="#0000ff" stroke-width="1.5" fill="none"/>
<path d="M608,50.89 H614 M608,53.23 H614" stroke="#0000ff" stroke-width="1.4" fill="none"/>
<circle cx="611" cy="52.06" r="2.25" fill="#0000ff"/>
<path d="M626,53.67 V60.27" stroke="#0000ff" stroke-width="1.5" fill="none"/>
<path d="M623,55.8 H629 M623,58.14 H629" stroke="#0000ff" stroke-width="1.4" fill="none"/>
<circle cx="626" cy="56.97" r="2.25" fill="#0000ff"/>
<path d="M641,53.67 V60.27" stroke="#0000ff" stroke-width="1.5" fill="none"/>
<path d="M638,55.51 H644 M638,58.43 H644" stroke="#0000ff" stroke-width="1.4" fill="none"/>
<circle cx="641" cy="56.97" r="2.25" fill="#0000ff"/>
<path d="M656,58.38 V64.98" stroke="#0000ff" stroke-width="1.5" fill="none"/>
<path d="M653,60.22 H659 M653,63.14 H659" stroke="#0000ff" stroke-width="1.4" fill="none"/>
<circle cx="656" cy="61.68" r="2.25" fill="#0000ff"/>
<path d="M671,65.25 V71.85" stroke="#0000ff" stroke-width="1.5" fill="none"/>
<path d="M668,66.79 H674 M668,70.3 H674" stroke="#0000ff" stroke-width="1.4" fill="none"/>
<circle cx="671" cy="68.55" r="2.25" fill="#0000ff"/>
<path d="M686,68.64 V75.24" stroke="#0000ff" stroke-width="1.5" fill="none"/>
<path d="M683,69.6 H689 M683,74.28 H689" stroke="#0000ff" stroke-width="1.4" fill="none"/>
<circle cx="686" cy="71.94" r="2.25" fill="#0000ff"/>
<path d="M701,70.57 V77.17" stroke="#0000ff" stroke-width="1.5" fill="none"/>
<path d="M698,71.24 H704 M698,76.5 H704" stroke="#0000ff" stroke-width="1.4" fill="none"/>
<circle cx="701" cy="73.87" r="2.25" fill="#0000ff"/>
<path d="M715.5,78.49 V85.5" stroke="#0000ff" stroke-width="1.5" fill="none"/>
<path d="M712.5,78.49 H718.5 M712.5,85.5 H718.5" stroke="#0000ff" stroke-width="1.4" fill="none"/>
<circle cx="715.5" cy="82" r="2.25" fill="#0000ff"/>
<path d="M730.5,88.28 V97.93" stroke="#0000ff" stroke-width="1.5" fill="none"/>
<path d="M727.5,88.28 H733.5 M727.5,97.93 H733.5" stroke="#0000ff" stroke-width="1.4" fill="none"/>
<circle cx="730.5" cy="93.11" r="2.25" fill="#0000ff"/>
<path d="M745.2,92.32 V104.6" stroke="#0000ff" stroke-width="1.5" fill="none"/>
<path d="M742.2,92.32 H748.2 M742.2,104.6 H748.2" stroke="#0000ff" stroke-width="1.4" fill="none"/>
<circle cx="745.2" cy="98.46" r="2.25" fill="#0000ff"/>
<path d="M760.5,91.41 V108.07" stroke="#0000ff" stroke-width="1.5" fill="none"/>
<path d="M757.5,91.41 H763.5 M757.5,108.07 H763.5" stroke="#0000ff" stroke-width="1.4" fill="none"/>
<circle cx="760.5" cy="99.74" r="2.25" fill="#0000ff"/>
<path d="M774.8,101.17 V123.98" stroke="#0000ff" stroke-width="1.5" fill="none"/>
<path d="M771.8,101.17 H777.8 M771.8,123.98 H777.8" stroke="#0000ff" stroke-width="1.4" fill="none"/>
<circle cx="774.8" cy="112.58" r="2.25" fill="#0000ff"/>
<path d="M790.4,109.48 V145.14" stroke="#0000ff" stroke-width="1.5" fill="none"/>
<path d="M787.4,109.48 H793.4 M787.4,145.14 H793.4" stroke="#0000ff" stroke-width="1.4" fill="none"/>
<circle cx="790.4" cy="127.31" r="2.25" fill="#0000ff"/>
<path d="M804,116.9 V175.37" stroke="#0000ff" stroke-width="1.5" fill="none"/>
<path d="M801,116.9 H807 M801,175.37 H807" stroke="#0000ff" stroke-width="1.4" fill="none"/>
<circle cx="804" cy="146.14" r="2.25" fill="#0000ff"/>
<path d="M820.4,87.55 V193.97" stroke="#0000ff" stroke-width="1.5" fill="none"/>
<path d="M817.4,87.55 H823.4 M817.4,193.97 H823.4" stroke="#0000ff" stroke-width="1.4" fill="none"/>
<circle cx="820.4" cy="140.76" r="2.25" fill="#0000ff"/>
<path d="M836.9,69.13 V242.5" stroke="#0000ff" stroke-width="1.5" fill="none"/>
<path d="M833.9,69.13 H839.9 M833.9,242.5 H839.9" stroke="#0000ff" stroke-width="1.4" fill="none"/>
<path d="M491,54.55 V61.15" stroke="#ff0000" stroke-width="1.5" fill="none"/>
<path d="M488,56.97 H494 M488,58.73 H494" stroke="#ff0000" stroke-width="1.4" fill="none"/>
<circle cx="491" cy="57.85" r="2.25" fill="#ff0000"/>
<path d="M506,37.01 V43.61" stroke="#ff0000" stroke-width="1.5" fill="none"/>
<path d="M503,39.43 H509 M503,41.18 H509" stroke="#ff0000" stroke-width="1.4" fill="none"/>
<circle cx="506" cy="40.31" r="2.25" fill="#ff0000"/>
<path d="M521,47.27 V53.87" stroke="#ff0000" stroke-width="1.5" fill="none"/>
<path d="M518,49.69 H524 M518,51.45 H524" stroke="#ff0000" stroke-width="1.4" fill="none"/>
<circle cx="521" cy="50.57" r="2.25" fill="#ff0000"/>
<path d="M536,59.46 V66.06" stroke="#ff0000" stroke-width="1.5" fill="none"/>
<path d="M533,61.88 H539 M533,63.64 H539" stroke="#ff0000" stroke-width="1.4" fill="none"/>
<circle cx="536" cy="62.76" r="2.25" fill="#ff0000"/>
<path d="M551,56.24 V62.84" stroke="#ff0000" stroke-width="1.5" fill="none"/>
<path d="M548,58.67 H554 M548,60.42 H554" stroke="#ff0000" stroke-width="1.4" fill="none"/>
<circle cx="551" cy="59.54" r="2.25" fill="#ff0000"/>
<path d="M566,54.72 V61.32" stroke="#ff0000" stroke-width="1.5" fill="none"/>
<path d="M563,57.15 H569 M563,58.9 H569" stroke="#ff0000" stroke-width="1.4" fill="none"/>
<circle cx="566" cy="58.02" r="2.25" fill="#ff0000"/>
<path d="M581,64.17 V70.77" stroke="#ff0000" stroke-width="1.5" fill="none"/>
<path d="M578,66.3 H584 M578,68.64 H584" stroke="#ff0000" stroke-width="1.4" fill="none"/>
<circle cx="581" cy="67.47" r="2.25" fill="#ff0000"/>
<path d="M596,66.94 V73.54" stroke="#ff0000" stroke-width="1.5" fill="none"/>
<path d="M593,69.07 H599 M593,71.41 H599" stroke="#ff0000" stroke-width="1.4" fill="none"/>
<circle cx="596" cy="70.24" r="2.25" fill="#ff0000"/>
<path d="M611,72.7 V79.3" stroke="#ff0000" stroke-width="1.5" fill="none"/>
<path d="M608,74.54 H614 M608,77.47 H614" stroke="#ff0000" stroke-width="1.4" fill="none"/>
<circle cx="611" cy="76" r="2.25" fill="#ff0000"/>
<path d="M626,79.14 V85.74" stroke="#ff0000" stroke-width="1.5" fill="none"/>
<path d="M623,80.97 H629 M623,83.9 H629" stroke="#ff0000" stroke-width="1.4" fill="none"/>
<circle cx="626" cy="82.44" r="2.25" fill="#ff0000"/>
<path d="M641,80.83 V87.43" stroke="#ff0000" stroke-width="1.5" fill="none"/>
<path d="M638,82.38 H644 M638,85.88 H644" stroke="#ff0000" stroke-width="1.4" fill="none"/>
<circle cx="641" cy="84.13" r="2.25" fill="#ff0000"/>
<path d="M656,88.34 V94.94" stroke="#ff0000" stroke-width="1.5" fill="none"/>
<path d="M653,89.6 H659 M653,93.69 H659" stroke="#ff0000" stroke-width="1.4" fill="none"/>
<circle cx="656" cy="91.64" r="2.25" fill="#ff0000"/>
<path d="M671,97.52 V104.12" stroke="#ff0000" stroke-width="1.5" fill="none"/>
<path d="M668,98.49 H674 M668,103.16 H674" stroke="#ff0000" stroke-width="1.4" fill="none"/>
<circle cx="671" cy="100.82" r="2.25" fill="#ff0000"/>
<path d="M686,102.67 V109.27" stroke="#ff0000" stroke-width="1.5" fill="none"/>
<path d="M683,103.34 H689 M683,108.6 H689" stroke="#ff0000" stroke-width="1.4" fill="none"/>
<circle cx="686" cy="105.97" r="2.25" fill="#ff0000"/>
<path d="M701,110.86 V117.46" stroke="#ff0000" stroke-width="1.5" fill="none"/>
<path d="M698,110.94 H704 M698,117.37 H704" stroke="#ff0000" stroke-width="1.4" fill="none"/>
<circle cx="701" cy="114.16" r="2.25" fill="#ff0000"/>
<path d="M715.5,122.17 V130.35" stroke="#ff0000" stroke-width="1.5" fill="none"/>
<path d="M712.5,122.17 H718.5 M712.5,130.35 H718.5" stroke="#ff0000" stroke-width="1.4" fill="none"/>
<circle cx="715.5" cy="126.26" r="2.25" fill="#ff0000"/>
<path d="M730.5,129.06 V140.76" stroke="#ff0000" stroke-width="1.5" fill="none"/>
<path d="M727.5,129.06 H733.5 M727.5,140.76 H733.5" stroke="#ff0000" stroke-width="1.4" fill="none"/>
<circle cx="730.5" cy="134.91" r="2.25" fill="#ff0000"/>
<path d="M745.2,137.92 V153.13" stroke="#ff0000" stroke-width="1.5" fill="none"/>
<path d="M742.2,137.92 H748.2 M742.2,153.13 H748.2" stroke="#ff0000" stroke-width="1.4" fill="none"/>
<circle cx="745.2" cy="145.52" r="2.25" fill="#ff0000"/>
<path d="M760.5,139.74 V161.37" stroke="#ff0000" stroke-width="1.5" fill="none"/>
<path d="M757.5,139.74 H763.5 M757.5,161.37 H763.5" stroke="#ff0000" stroke-width="1.4" fill="none"/>
<circle cx="760.5" cy="150.55" r="2.25" fill="#ff0000"/>
<path d="M774.8,162.33 V196.25" stroke="#ff0000" stroke-width="1.5" fill="none"/>
<path d="M771.8,162.33 H777.8 M771.8,196.25 H777.8" stroke="#ff0000" stroke-width="1.4" fill="none"/>
<circle cx="774.8" cy="179.29" r="2.25" fill="#ff0000"/>
<path d="M790.4,158.59 V209.46" stroke="#ff0000" stroke-width="1.5" fill="none"/>
<path d="M787.4,158.59 H793.4 M787.4,209.46 H793.4" stroke="#ff0000" stroke-width="1.4" fill="none"/>
<circle cx="790.4" cy="184.03" r="2.25" fill="#ff0000"/>
<path d="M804,167.57 V267.55" stroke="#ff0000" stroke-width="1.5" fill="none"/>
<path d="M801,167.57 H807 M801,267.55 H807" stroke="#ff0000" stroke-width="1.4" fill="none"/>
<circle cx="804" cy="217.56" r="2.25" fill="#ff0000"/>
<path d="M819.4,121.58 V280.62" stroke="#ff0000" stroke-width="1.5" fill="none"/>
<path d="M816.4,121.58 H822.4 M816.4,280.62 H822.4" stroke="#ff0000" stroke-width="1.4" fill="none"/>
<circle cx="819.4" cy="201.1" r="2.25" fill="#ff0000"/>
<path d="M833.9,66.21 V366.75" stroke="#ff0000" stroke-width="1.5" fill="none"/>
<path d="M830.9,66.21 H836.9 M830.9,366.75 H836.9" stroke="#ff0000" stroke-width="1.4" fill="none"/>
<path d="M491,72.26 V78.86" stroke="#00a800" stroke-width="1.5" fill="none"/>
<path d="M488,74.69 H494 M488,76.44 H494" stroke="#00a800" stroke-width="1.4" fill="none"/>
<circle cx="491" cy="75.56" r="2.25" fill="#00a800"/>
<path d="M506,64.17 V70.77" stroke="#00a800" stroke-width="1.5" fill="none"/>
<path d="M503,66.59 H509 M503,68.34 H509" stroke="#00a800" stroke-width="1.4" fill="none"/>
<circle cx="506" cy="67.47" r="2.25" fill="#00a800"/>
<path d="M521,63.09 V69.69" stroke="#00a800" stroke-width="1.5" fill="none"/>
<path d="M518,65.51 H524 M518,67.26 H524" stroke="#00a800" stroke-width="1.4" fill="none"/>
<circle cx="521" cy="66.39" r="2.25" fill="#00a800"/>
<path d="M536,84.46 V91.06" stroke="#00a800" stroke-width="1.5" fill="none"/>
<path d="M533,86.59 H539 M533,88.93 H539" stroke="#00a800" stroke-width="1.4" fill="none"/>
<circle cx="536" cy="87.76" r="2.25" fill="#00a800"/>
<path d="M551,85.54 V92.14" stroke="#00a800" stroke-width="1.5" fill="none"/>
<path d="M548,87.67 H554 M548,90.01 H554" stroke="#00a800" stroke-width="1.4" fill="none"/>
<circle cx="551" cy="88.84" r="2.25" fill="#00a800"/>
<path d="M566,89.81 V96.41" stroke="#00a800" stroke-width="1.5" fill="none"/>
<path d="M563,91.94 H569 M563,94.28 H569" stroke="#00a800" stroke-width="1.4" fill="none"/>
<circle cx="566" cy="93.11" r="2.25" fill="#00a800"/>
<path d="M581,95.8 V102.4" stroke="#00a800" stroke-width="1.5" fill="none"/>
<path d="M578,97.64 H584 M578,100.56 H584" stroke="#00a800" stroke-width="1.4" fill="none"/>
<circle cx="581" cy="99.1" r="2.25" fill="#00a800"/>
<path d="M596,103.72 V110.32" stroke="#00a800" stroke-width="1.5" fill="none"/>
<path d="M593,105.56 H599 M593,108.48 H599" stroke="#00a800" stroke-width="1.4" fill="none"/>
<circle cx="596" cy="107.02" r="2.25" fill="#00a800"/>
<path d="M611,112.9 V119.5" stroke="#00a800" stroke-width="1.5" fill="none"/>
<path d="M608,114.45 H614 M608,117.96 H614" stroke="#00a800" stroke-width="1.4" fill="none"/>
<circle cx="611" cy="116.2" r="2.25" fill="#00a800"/>
<path d="M626,122.96 V129.56" stroke="#00a800" stroke-width="1.5" fill="none"/>
<path d="M623,124.21 H629 M623,128.3 H629" stroke="#00a800" stroke-width="1.4" fill="none"/>
<circle cx="626" cy="126.26" r="2.25" fill="#00a800"/>
<path d="M641,129.36 V135.96" stroke="#00a800" stroke-width="1.5" fill="none"/>
<path d="M638,130.32 H644 M638,135 H644" stroke="#00a800" stroke-width="1.4" fill="none"/>
<circle cx="641" cy="132.66" r="2.25" fill="#00a800"/>
<path d="M656,139.62 V146.22" stroke="#00a800" stroke-width="1.5" fill="none"/>
<path d="M653,140.29 H659 M653,145.55 H659" stroke="#00a800" stroke-width="1.4" fill="none"/>
<circle cx="656" cy="142.92" r="2.25" fill="#00a800"/>
<path d="M671,150.32 V156.92" stroke="#00a800" stroke-width="1.5" fill="none"/>
<path d="M668,151.28 H674 M668,155.96 H674" stroke="#00a800" stroke-width="1.4" fill="none"/>
<circle cx="671" cy="153.62" r="2.25" fill="#00a800"/>
<path d="M686,158.68 V165.28" stroke="#00a800" stroke-width="1.5" fill="none"/>
<path d="M683,159.06 H689 M683,164.91 H689" stroke="#00a800" stroke-width="1.4" fill="none"/>
<circle cx="686" cy="161.98" r="2.25" fill="#00a800"/>
<path d="M701,173.33 V182.68" stroke="#00a800" stroke-width="1.5" fill="none"/>
<path d="M698,173.33 H704 M698,182.68 H704" stroke="#00a800" stroke-width="1.4" fill="none"/>
<circle cx="701" cy="178" r="2.25" fill="#00a800"/>
<path d="M715.5,185.81 V198.44" stroke="#00a800" stroke-width="1.5" fill="none"/>
<path d="M712.5,185.81 H718.5 M712.5,198.44 H718.5" stroke="#00a800" stroke-width="1.4" fill="none"/>
<circle cx="715.5" cy="192.12" r="2.25" fill="#00a800"/>
<path d="M730.5,190.6 V207.27" stroke="#00a800" stroke-width="1.5" fill="none"/>
<path d="M727.5,190.6 H733.5 M727.5,207.27 H733.5" stroke="#00a800" stroke-width="1.4" fill="none"/>
<circle cx="730.5" cy="198.94" r="2.25" fill="#00a800"/>
<path d="M745.2,201.28 V225.25" stroke="#00a800" stroke-width="1.5" fill="none"/>
<path d="M742.2,201.28 H748.2 M742.2,225.25 H748.2" stroke="#00a800" stroke-width="1.4" fill="none"/>
<circle cx="745.2" cy="213.26" r="2.25" fill="#00a800"/>
<path d="M760.5,208.17 V245.36" stroke="#00a800" stroke-width="1.5" fill="none"/>
<path d="M757.5,208.17 H763.5 M757.5,245.36 H763.5" stroke="#00a800" stroke-width="1.4" fill="none"/>
<circle cx="760.5" cy="226.77" r="2.25" fill="#00a800"/>
<path d="M774.8,211.39 V273.37" stroke="#00a800" stroke-width="1.5" fill="none"/>
<path d="M771.8,211.39 H777.8 M771.8,273.37 H777.8" stroke="#00a800" stroke-width="1.4" fill="none"/>
<circle cx="774.8" cy="242.38" r="2.25" fill="#00a800"/>
<path d="M790.4,201.63 V313.89" stroke="#00a800" stroke-width="1.5" fill="none"/>
<path d="M787.4,201.63 H793.4 M787.4,313.89 H793.4" stroke="#00a800" stroke-width="1.4" fill="none"/>
<circle cx="790.4" cy="257.76" r="2.25" fill="#00a800"/>
<path d="M804,156.25 V397.73" stroke="#00a800" stroke-width="1.5" fill="none"/>
<path d="M801,156.25 H807 M801,397.73 H807" stroke="#00a800" stroke-width="1.4" fill="none"/>
<circle cx="804" cy="276.99" r="2.25" fill="#00a800"/>
<path d="M819.2,49.25 V464.98" stroke="#00a800" stroke-width="1.5" fill="none"/>
<path d="M816.2,49.25 H822.2 M816.2,464.98 H822.2" stroke="#00a800" stroke-width="1.4" fill="none"/>
<circle cx="819.2" cy="278.75" r="2.25" fill="#00a800"/>
<path d="M831.9,-67.1 V464.98" stroke="#00a800" stroke-width="1.5" fill="none"/>
<path d="M828.9,-67.1 H834.9 M828.9,464.98 H834.9" stroke="#00a800" stroke-width="1.4" fill="none"/>
</g>
<rect x="484.8" y="9.1" width="351.2" height="281" fill="none" stroke="#000" stroke-width="1.6"/>
<text x="480.5" y="266.58" text-anchor="end" font-size="17.9" letter-spacing="0.1">0.2</text>
<text x="480.5" y="208.11" text-anchor="end" font-size="17.9" letter-spacing="0.1">0.4</text>
<text x="480.5" y="149.64" text-anchor="end" font-size="17.9" letter-spacing="0.1">0.6</text>
<text x="480.5" y="91.17" text-anchor="end" font-size="17.9" letter-spacing="0.1">0.8</text>
<text x="480.5" y="32.7" text-anchor="end" font-size="17.9" letter-spacing="0.1">1.0</text>
<text x="490.4" y="314" font-size="18.2">10</text>
<text class="gp" transform="translate(509,306.55) scale(0.86,1)" font-size="14">13</text>
<text x="640.4" y="314" font-size="18.2">10</text>
<text class="gp" transform="translate(659,306.55) scale(0.86,1)" font-size="14">14</text>
<text x="790.4" y="314" font-size="18.2">10</text>
<text class="gp" transform="translate(809,306.55) scale(0.86,1)" font-size="14">15</text>
<path d="M484.8,289.56 h2.8 M836,289.56 h-2.8 M484.8,274.95 h2.8 M836,274.95 h-2.8 M484.8,260.33 h4.6 M836,260.33 h-4.6 M484.8,245.71 h2.8 M836,245.71 h-2.8 M484.8,231.09 h2.8 M836,231.09 h-2.8 M484.8,216.48 h2.8 M836,216.48 h-2.8 M484.8,201.86 h4.6 M836,201.86 h-4.6 M484.8,187.24 h2.8 M836,187.24 h-2.8 M484.8,172.62 h2.8 M836,172.62 h-2.8 M484.8,158.01 h2.8 M836,158.01 h-2.8 M484.8,143.39 h4.6 M836,143.39 h-4.6 M484.8,128.77 h2.8 M836,128.77 h-2.8 M484.8,114.15 h2.8 M836,114.15 h-2.8 M484.8,99.54 h2.8 M836,99.54 h-2.8 M484.8,84.92 h4.6 M836,84.92 h-4.6 M484.8,70.3 h2.8 M836,70.3 h-2.8 M484.8,55.68 h2.8 M836,55.68 h-2.8 M484.8,41.07 h2.8 M836,41.07 h-2.8 M484.8,26.45 h4.6 M836,26.45 h-4.6 M484.8,11.83 h2.8 M836,11.83 h-2.8 M491.46,290.1 v-1.9 M491.46,9.1 v1.9 M499.14,290.1 v-1.9 M499.14,9.1 v1.9 M506,290.1 v-3.9 M506,9.1 v3.9 M551.15,290.1 v-1.9 M551.15,9.1 v1.9 M577.57,290.1 v-1.9 M577.57,9.1 v1.9 M596.31,290.1 v-1.9 M596.31,9.1 v1.9 M610.85,290.1 v-1.9 M610.85,9.1 v1.9 M622.72,290.1 v-1.9 M622.72,9.1 v1.9 M632.76,290.1 v-1.9 M632.76,9.1 v1.9 M641.46,290.1 v-1.9 M641.46,9.1 v1.9 M649.14,290.1 v-1.9 M649.14,9.1 v1.9 M656,290.1 v-3.9 M656,9.1 v3.9 M701.15,290.1 v-1.9 M701.15,9.1 v1.9 M727.57,290.1 v-1.9 M727.57,9.1 v1.9 M746.31,290.1 v-1.9 M746.31,9.1 v1.9 M760.85,290.1 v-1.9 M760.85,9.1 v1.9 M772.72,290.1 v-1.9 M772.72,9.1 v1.9 M782.76,290.1 v-1.9 M782.76,9.1 v1.9 M791.46,290.1 v-1.9 M791.46,9.1 v1.9 M799.14,290.1 v-1.9 M799.14,9.1 v1.9 M806,290.1 v-3.9 M806,9.1 v3.9" stroke="#000" stroke-width="1.3" fill="none"/>
<text y="345.25" font-size="18.3"><tspan x="617.8" font-style="italic">M</tspan><tspan x="640.1">[</tspan><tspan x="645.95" font-style="italic">h</tspan><tspan x="670.55" font-style="italic">M</tspan><tspan x="697.2">]</tspan></text>
<text class="gp" y="338.6" font-size="12.3"><tspan x="655.8">−</tspan><tspan x="663.3">1</tspan></text>
<circle cx="691.4" cy="347.45" r="3.95" fill="none" stroke="#000" stroke-width="1.0"/><circle cx="691.4" cy="347.45" r="1.05" fill="#000"/>
<text transform="translate(444,148.8) rotate(-90)" text-anchor="middle" font-size="18.2">ratio to ΛCDM</text>
<text y="46.55" font-size="18.2"><tspan x="722.9" font-style="italic">z</tspan><tspan x="735" dy="1.6">=</tspan><tspan x="751.4" dy="-1.6">0.5</tspan></text>
<clipPath id="clip2"><rect x="62.2" y="358" width="353.5" height="284.85"/></clipPath>
<g clip-path="url(#clip2)">
<line x1="63.4" y1="377.65" x2="415.3" y2="377.65" stroke="#000" stroke-width="1.6"/>
<path d="M63.4,394.36 L68.53,394.9 L73.66,395.46 L78.79,396.03 L83.93,396.62 L89.06,397.23 L94.19,397.85 L99.32,398.49 L104.45,399.15 L109.58,399.83 L114.71,400.53 L119.85,401.24 L124.98,401.98 L130.11,402.75 L135.24,403.53 L140.37,404.34 L145.5,405.17 L150.63,406.02 L155.77,406.9 L160.9,407.81 L166.03,408.74 L171.16,409.7 L176.29,410.69 L181.42,411.71 L186.55,412.76 L191.69,413.85 L196.82,414.96 L201.95,416.11 L207.08,417.3 L212.21,418.52 L217.34,419.78 L222.47,421.08 L227.61,422.42 L232.74,423.8 L237.87,425.22 L243,426.69 L248.13,428.21 L253.26,429.77 L258.4,431.38 L263.53,433.04 L268.66,434.76 L273.79,436.52 L278.92,438.35 L284.05,440.23 L289.18,442.17 L294.32,444.18 L299.45,446.24 L304.58,448.38 L309.71,450.58 L314.84,452.84 L319.97,455.18 L325.1,457.6 L330.24,460.08 L335.37,462.65 L340.5,465.29 L345.63,468.02 L350.76,470.82 L355.89,473.72 L361.02,476.69 L366.16,479.76 L371.29,482.92 L376.42,486.16 L381.55,489.5 L386.68,492.93 L391.81,496.46 L396.94,500.08 L402.08,503.79 L407.21,507.6 L412.34,511.51 L417.47,515.5" fill="none" stroke="#0000ff" stroke-width="1.9"/>
<path d="M63.4,398.64 L68.53,399.32 L73.66,400.02 L78.79,400.75 L83.93,401.49 L89.06,402.26 L94.19,403.06 L99.32,403.87 L104.45,404.71 L109.58,405.58 L114.71,406.48 L119.85,407.4 L124.98,408.35 L130.11,409.33 L135.24,410.33 L140.37,411.37 L145.5,412.44 L150.63,413.55 L155.77,414.69 L160.9,415.86 L166.03,417.07 L171.16,418.31 L176.29,419.59 L181.42,420.92 L186.55,422.28 L191.69,423.68 L196.82,425.13 L201.95,426.62 L207.08,428.16 L212.21,429.74 L217.34,431.37 L222.47,433.05 L227.61,434.78 L232.74,436.57 L237.87,438.4 L243,440.29 L248.13,442.24 L253.26,444.25 L258.4,446.31 L263.53,448.44 L268.66,450.62 L273.79,452.87 L278.92,455.19 L284.05,457.57 L289.18,460.02 L294.32,462.54 L299.45,465.13 L304.58,467.79 L309.71,470.52 L314.84,473.33 L319.97,476.22 L325.1,479.17 L330.24,482.21 L335.37,485.32 L340.5,488.51 L345.63,491.78 L350.76,495.13 L355.89,498.56 L361.02,502.06 L366.16,505.65 L371.29,509.31 L376.42,513.05 L381.55,516.86 L386.68,520.74 L391.81,524.7 L396.94,528.72 L402.08,532.82 L407.21,536.97 L412.34,541.19 L417.47,545.45" fill="none" stroke="#0000ff" stroke-width="1.9" stroke-dasharray="7,4.7"/>
<path d="M63.4,408.77 L68.53,409.73 L73.66,410.73 L78.79,411.75 L83.93,412.8 L89.06,413.87 L94.19,414.98 L99.32,416.12 L104.45,417.3 L109.58,418.5 L114.71,419.74 L119.85,421.02 L124.98,422.33 L130.11,423.68 L135.24,425.06 L140.37,426.49 L145.5,427.95 L150.63,429.45 L155.77,431 L160.9,432.59 L166.03,434.22 L171.16,435.9 L176.29,437.62 L181.42,439.4 L186.55,441.22 L191.69,443.09 L196.82,445 L201.95,446.98 L207.08,449 L212.21,451.08 L217.34,453.21 L222.47,455.4 L227.61,457.64 L232.74,459.95 L237.87,462.31 L243,464.74 L248.13,467.22 L253.26,469.77 L258.4,472.38 L263.53,475.05 L268.66,477.79 L273.79,480.59 L278.92,483.46 L284.05,486.39 L289.18,489.39 L294.32,492.46 L299.45,495.59 L304.58,498.79 L309.71,502.06 L314.84,505.39 L319.97,508.79 L325.1,512.25 L330.24,515.77 L335.37,519.36 L340.5,523.01 L345.63,526.72 L350.76,530.48 L355.89,534.3 L361.02,538.17 L366.16,542.09 L371.29,546.06 L376.42,550.07 L381.55,554.11 L386.68,558.19 L391.81,562.29 L396.94,566.42 L402.08,570.56 L407.21,574.71 L412.34,578.87 L417.47,583.02" fill="none" stroke="#ff0000" stroke-width="1.9"/>
<path d="M63.4,417.09 L68.53,418.25 L73.66,419.45 L78.79,420.69 L83.93,421.97 L89.06,423.28 L94.19,424.64 L99.32,426.04 L104.45,427.48 L109.58,428.97 L114.71,430.5 L119.85,432.08 L124.98,433.7 L130.11,435.38 L135.24,437.1 L140.37,438.87 L145.5,440.7 L150.63,442.58 L155.77,444.51 L160.9,446.5 L166.03,448.54 L171.16,450.64 L176.29,452.8 L181.42,455.01 L186.55,457.29 L191.69,459.62 L196.82,462.01 L201.95,464.47 L207.08,466.98 L212.21,469.56 L217.34,472.2 L222.47,474.9 L227.61,477.66 L232.74,480.48 L237.87,483.37 L243,486.32 L248.13,489.32 L253.26,492.39 L258.4,495.52 L263.53,498.71 L268.66,501.95 L273.79,505.25 L278.92,508.6 L284.05,512.01 L289.18,515.46 L294.32,518.97 L299.45,522.52 L304.58,526.11 L309.71,529.75 L314.84,533.42 L319.97,537.13 L325.1,540.86 L330.24,544.63 L335.37,548.41 L340.5,552.22 L345.63,556.03 L350.76,559.86 L355.89,563.69 L361.02,567.53 L366.16,571.35 L371.29,575.16 L376.42,578.96 L381.55,582.73 L386.68,586.48 L391.81,590.19 L396.94,593.86 L402.08,597.48 L407.21,601.05 L412.34,604.57 L417.47,608.02" fill="none" stroke="#ff0000" stroke-width="1.9" stroke-dasharray="7,4.7"/>
<path d="M63.4,436.64 L68.53,438.29 L73.66,439.98 L78.79,441.72 L83.93,443.51 L89.06,445.34 L94.19,447.22 L99.32,449.15 L104.45,451.13 L109.58,453.16 L114.71,455.24 L119.85,457.37 L124.98,459.56 L130.11,461.8 L135.24,464.09 L140.37,466.44 L145.5,468.84 L150.63,471.3 L155.77,473.81 L160.9,476.38 L166.03,479.01 L171.16,481.69 L176.29,484.43 L181.42,487.23 L186.55,490.08 L191.69,492.99 L196.82,495.96 L201.95,498.98 L207.08,502.05 L212.21,505.18 L217.34,508.36 L222.47,511.59 L227.61,514.87 L232.74,518.2 L237.87,521.58 L243,525 L248.13,528.47 L253.26,531.97 L258.4,535.52 L263.53,539.1 L268.66,542.71 L273.79,546.35 L278.92,550.02 L284.05,553.7 L289.18,557.41 L294.32,561.13 L299.45,564.86 L304.58,568.6 L309.71,572.34 L314.84,576.07 L319.97,579.79 L325.1,583.5 L330.24,587.18 L335.37,590.84 L340.5,594.47 L345.63,598.06 L350.76,601.61 L355.89,605.11 L361.02,608.55 L366.16,611.94 L371.29,615.25 L376.42,618.49 L381.55,621.66 L386.68,624.74 L391.81,627.73 L396.94,630.63 L402.08,633.43 L407.21,636.13 L412.34,638.73 L417.47,641.21" fill="none" stroke="#00a800" stroke-width="1.9"/>
<path d="M63.4,452.93 L68.53,455.11 L73.66,457.34 L78.79,459.6 L83.93,461.9 L89.06,464.24 L94.19,466.62 L99.32,469.04 L104.45,471.5 L109.58,474 L114.71,476.54 L119.85,479.13 L124.98,481.76 L130.11,484.43 L135.24,487.14 L140.37,489.89 L145.5,492.69 L150.63,495.52 L155.77,498.41 L160.9,501.33 L166.03,504.3 L171.16,507.3 L176.29,510.35 L181.42,513.45 L186.55,516.58 L191.69,519.76 L196.82,522.98 L201.95,526.23 L207.08,529.53 L212.21,532.86 L217.34,536.24 L222.47,539.64 L227.61,543.09 L232.74,546.56 L237.87,550.07 L243,553.61 L248.13,557.17 L253.26,560.76 L258.4,564.37 L263.53,568 L268.66,571.65 L273.79,575.31 L278.92,578.97 L284.05,582.64 L289.18,586.31 L294.32,589.98 L299.45,593.63 L304.58,597.27 L309.71,600.89 L314.84,604.48 L319.97,608.03 L325.1,611.55 L330.24,615.01 L335.37,618.42 L340.5,621.77 L345.63,625.05 L350.76,628.25 L355.89,631.36 L361.02,634.38 L366.16,637.3 L371.29,640.12 L376.42,642.82 L381.55,645.4 L386.68,647.85 L391.81,650.17 L396.94,652.35 L402.08,654.4 L407.21,656.3 L412.34,658.06 L417.47,659.67" fill="none" stroke="#00a800" stroke-width="1.9" stroke-dasharray="7,4.7"/>
<path d="M81.8,408.94 V415.54" stroke="#0000ff" stroke-width="1.5" fill="none"/>
<path d="M78.8,411.36 H84.8 M78.8,413.11 H84.8" stroke="#0000ff" stroke-width="1.4" fill="none"/>
<circle cx="81.8" cy="412.24" r="2.25" fill="#0000ff"/>
<path d="M97.65,399.11 V405.71" stroke="#0000ff" stroke-width="1.5" fill="none"/>
<path d="M94.65,401.53 H100.65 M94.65,403.29 H100.65" stroke="#0000ff" stroke-width="1.4" fill="none"/>
<circle cx="97.65" cy="402.41" r="2.25" fill="#0000ff"/>
<path d="M113.5,392.27 V398.87" stroke="#0000ff" stroke-width="1.5" fill="none"/>
<path d="M110.5,394.69 H116.5 M110.5,396.45 H116.5" stroke="#0000ff" stroke-width="1.4" fill="none"/>
<circle cx="113.5" cy="395.57" r="2.25" fill="#0000ff"/>
<path d="M129.35,392.27 V398.87" stroke="#0000ff" stroke-width="1.5" fill="none"/>
<path d="M126.35,394.69 H132.35 M126.35,396.45 H132.35" stroke="#0000ff" stroke-width="1.4" fill="none"/>
<circle cx="129.35" cy="395.57" r="2.25" fill="#0000ff"/>
<path d="M145.2,406.8 V413.4" stroke="#0000ff" stroke-width="1.5" fill="none"/>
<path d="M142.2,409.22 H148.2 M142.2,410.98 H148.2" stroke="#0000ff" stroke-width="1.4" fill="none"/>
<circle cx="145.2" cy="410.1" r="2.25" fill="#0000ff"/>
<path d="M161.05,407.88 V414.48" stroke="#0000ff" stroke-width="1.5" fill="none"/>
<path d="M158.05,410.31 H164.05 M158.05,412.06 H164.05" stroke="#0000ff" stroke-width="1.4" fill="none"/>
<circle cx="161.05" cy="411.18" r="2.25" fill="#0000ff"/>
<path d="M176.9,404.02 V410.62" stroke="#0000ff" stroke-width="1.5" fill="none"/>
<path d="M173.9,406.45 H179.9 M173.9,408.2 H179.9" stroke="#0000ff" stroke-width="1.4" fill="none"/>
<circle cx="176.9" cy="407.32" r="2.25" fill="#0000ff"/>
<path d="M192.75,410.43 V417.03" stroke="#0000ff" stroke-width="1.5" fill="none"/>
<path d="M189.75,412.56 H195.75 M189.75,414.9 H195.75" stroke="#0000ff" stroke-width="1.4" fill="none"/>
<circle cx="192.75" cy="413.73" r="2.25" fill="#0000ff"/>
<path d="M208.6,416.21 V422.81" stroke="#0000ff" stroke-width="1.5" fill="none"/>
<path d="M205.6,418.35 H211.6 M205.6,420.68 H211.6" stroke="#0000ff" stroke-width="1.4" fill="none"/>
<circle cx="208.6" cy="419.51" r="2.25" fill="#0000ff"/>
<path d="M224.45,419.66 V426.26" stroke="#0000ff" stroke-width="1.5" fill="none"/>
<path d="M221.45,421.5 H227.45 M221.45,424.43 H227.45" stroke="#0000ff" stroke-width="1.4" fill="none"/>
<circle cx="224.45" cy="422.96" r="2.25" fill="#0000ff"/>
<path d="M240.3,430.34 V436.94" stroke="#0000ff" stroke-width="1.5" fill="none"/>
<path d="M237.3,431.88 H243.3 M237.3,435.39 H243.3" stroke="#0000ff" stroke-width="1.4" fill="none"/>
<circle cx="240.3" cy="433.64" r="2.25" fill="#0000ff"/>
<path d="M256.15,427.12 V433.72" stroke="#0000ff" stroke-width="1.5" fill="none"/>
<path d="M253.15,428.67 H259.15 M253.15,432.17 H259.15" stroke="#0000ff" stroke-width="1.4" fill="none"/>
<circle cx="256.15" cy="430.42" r="2.25" fill="#0000ff"/>
<path d="M272,436.09 V442.69" stroke="#0000ff" stroke-width="1.5" fill="none"/>
<path d="M269,436.76 H275 M269,442.03 H275" stroke="#0000ff" stroke-width="1.4" fill="none"/>
<circle cx="272" cy="439.39" r="2.25" fill="#0000ff"/>
<path d="M286.85,441.24 V448.25" stroke="#0000ff" stroke-width="1.5" fill="none"/>
<path d="M283.85,441.24 H289.85 M283.85,448.25 H289.85" stroke="#0000ff" stroke-width="1.4" fill="none"/>
<circle cx="286.85" cy="444.74" r="2.25" fill="#0000ff"/>
<path d="M302.7,453.54 V462.9" stroke="#0000ff" stroke-width="1.5" fill="none"/>
<path d="M299.7,453.54 H305.7 M299.7,462.9 H305.7" stroke="#0000ff" stroke-width="1.4" fill="none"/>
<circle cx="302.7" cy="458.22" r="2.25" fill="#0000ff"/>
<path d="M318.55,448.87 V461.15" stroke="#0000ff" stroke-width="1.5" fill="none"/>
<path d="M315.55,448.87 H321.55 M315.55,461.15 H321.55" stroke="#0000ff" stroke-width="1.4" fill="none"/>
<circle cx="318.55" cy="455.01" r="2.25" fill="#0000ff"/>
<path d="M334.4,463.37 V483.83" stroke="#0000ff" stroke-width="1.5" fill="none"/>
<path d="M331.4,463.37 H337.4 M331.4,483.83 H337.4" stroke="#0000ff" stroke-width="1.4" fill="none"/>
<circle cx="334.4" cy="473.6" r="2.25" fill="#0000ff"/>
<path d="M350.25,454.83 V481.73" stroke="#0000ff" stroke-width="1.5" fill="none"/>
<path d="M347.25,454.83 H353.25 M347.25,481.73 H353.25" stroke="#0000ff" stroke-width="1.4" fill="none"/>
<circle cx="350.25" cy="468.28" r="2.25" fill="#0000ff"/>
<path d="M364.9,474.33 V519.94" stroke="#0000ff" stroke-width="1.5" fill="none"/>
<path d="M361.9,474.33 H367.9 M361.9,519.94 H367.9" stroke="#0000ff" stroke-width="1.4" fill="none"/>
<circle cx="364.9" cy="497.13" r="2.25" fill="#0000ff"/>
<path d="M380.85,470.82 V551.51" stroke="#0000ff" stroke-width="1.5" fill="none"/>
<path d="M377.85,470.82 H383.85 M377.85,551.51 H383.85" stroke="#0000ff" stroke-width="1.4" fill="none"/>
<circle cx="380.85" cy="511.17" r="2.25" fill="#0000ff"/>
<path d="M396.2,446.85 V614.66" stroke="#0000ff" stroke-width="1.5" fill="none"/>
<path d="M393.2,446.85 H399.2 M393.2,614.66 H399.2" stroke="#0000ff" stroke-width="1.4" fill="none"/>
<circle cx="396.2" cy="530.75" r="2.25" fill="#0000ff"/>
<path d="M414.35,360.11 V599.84" stroke="#0000ff" stroke-width="1.5" fill="none"/>
<path d="M411.35,360.11 H417.35 M411.35,599.84 H417.35" stroke="#0000ff" stroke-width="1.4" fill="none"/>
<path d="M81.8,436.09 V442.69" stroke="#ff0000" stroke-width="1.5" fill="none"/>
<path d="M78.8,438.52 H84.8 M78.8,440.27 H84.8" stroke="#ff0000" stroke-width="1.4" fill="none"/>
<circle cx="81.8" cy="439.39" r="2.25" fill="#ff0000"/>
<path d="M97.65,422.85 V429.45" stroke="#ff0000" stroke-width="1.5" fill="none"/>
<path d="M94.65,425.27 H100.65 M94.65,427.03 H100.65" stroke="#ff0000" stroke-width="1.4" fill="none"/>
<circle cx="97.65" cy="426.15" r="2.25" fill="#ff0000"/>
<path d="M113.5,410.89 V417.49" stroke="#ff0000" stroke-width="1.5" fill="none"/>
<path d="M110.5,413.32 H116.5 M110.5,415.07 H116.5" stroke="#ff0000" stroke-width="1.4" fill="none"/>
<circle cx="113.5" cy="414.19" r="2.25" fill="#ff0000"/>
<path d="M129.35,420.48 V427.08" stroke="#ff0000" stroke-width="1.5" fill="none"/>
<path d="M126.35,422.91 H132.35 M126.35,424.66 H132.35" stroke="#ff0000" stroke-width="1.4" fill="none"/>
<circle cx="129.35" cy="423.78" r="2.25" fill="#ff0000"/>
<path d="M145.2,434.4 V441" stroke="#ff0000" stroke-width="1.5" fill="none"/>
<path d="M142.2,436.82 H148.2 M142.2,438.58 H148.2" stroke="#ff0000" stroke-width="1.4" fill="none"/>
<circle cx="145.2" cy="437.7" r="2.25" fill="#ff0000"/>
<path d="M161.05,433.52 V440.12" stroke="#ff0000" stroke-width="1.5" fill="none"/>
<path d="M158.05,435.65 H164.05 M158.05,437.99 H164.05" stroke="#ff0000" stroke-width="1.4" fill="none"/>
<circle cx="161.05" cy="436.82" r="2.25" fill="#ff0000"/>
<path d="M176.9,435.45 V442.05" stroke="#ff0000" stroke-width="1.5" fill="none"/>
<path d="M173.9,437.58 H179.9 M173.9,439.92 H179.9" stroke="#ff0000" stroke-width="1.4" fill="none"/>
<circle cx="176.9" cy="438.75" r="2.25" fill="#ff0000"/>
<path d="M192.75,443.58 V450.18" stroke="#ff0000" stroke-width="1.5" fill="none"/>
<path d="M189.75,445.42 H195.75 M189.75,448.34 H195.75" stroke="#ff0000" stroke-width="1.4" fill="none"/>
<circle cx="192.75" cy="446.88" r="2.25" fill="#ff0000"/>
<path d="M208.6,450.42 V457.02" stroke="#ff0000" stroke-width="1.5" fill="none"/>
<path d="M205.6,452.26 H211.6 M205.6,455.18 H211.6" stroke="#ff0000" stroke-width="1.4" fill="none"/>
<circle cx="208.6" cy="453.72" r="2.25" fill="#ff0000"/>
<path d="M224.45,457.47 V464.07" stroke="#ff0000" stroke-width="1.5" fill="none"/>
<path d="M221.45,459.01 H227.45 M221.45,462.52 H227.45" stroke="#ff0000" stroke-width="1.4" fill="none"/>
<circle cx="224.45" cy="460.77" r="2.25" fill="#ff0000"/>
<path d="M240.3,468.19 V474.79" stroke="#ff0000" stroke-width="1.5" fill="none"/>
<path d="M237.3,469.45 H243.3 M237.3,473.54 H243.3" stroke="#ff0000" stroke-width="1.4" fill="none"/>
<circle cx="240.3" cy="471.49" r="2.25" fill="#ff0000"/>
<path d="M256.15,472.43 V479.03" stroke="#ff0000" stroke-width="1.5" fill="none"/>
<path d="M253.15,473.1 H259.15 M253.15,478.36 H259.15" stroke="#ff0000" stroke-width="1.4" fill="none"/>
<circle cx="256.15" cy="475.73" r="2.25" fill="#ff0000"/>
<path d="M272,479.89 V486.49" stroke="#ff0000" stroke-width="1.5" fill="none"/>
<path d="M269,479.97 H275 M269,486.4 H275" stroke="#ff0000" stroke-width="1.4" fill="none"/>
<circle cx="272" cy="483.19" r="2.25" fill="#ff0000"/>
<path d="M286.85,491.08 V500.44" stroke="#ff0000" stroke-width="1.5" fill="none"/>
<path d="M283.85,491.08 H289.85 M283.85,500.44 H289.85" stroke="#ff0000" stroke-width="1.4" fill="none"/>
<circle cx="286.85" cy="495.76" r="2.25" fill="#ff0000"/>
<path d="M302.7,499.12 V510.82" stroke="#ff0000" stroke-width="1.5" fill="none"/>
<path d="M299.7,499.12 H305.7 M299.7,510.82 H305.7" stroke="#ff0000" stroke-width="1.4" fill="none"/>
<circle cx="302.7" cy="504.97" r="2.25" fill="#ff0000"/>
<path d="M318.25,504.73 V521.69" stroke="#ff0000" stroke-width="1.5" fill="none"/>
<path d="M315.25,504.73 H321.25 M315.25,521.69 H321.25" stroke="#ff0000" stroke-width="1.4" fill="none"/>
<circle cx="318.25" cy="513.21" r="2.25" fill="#ff0000"/>
<path d="M334.4,519.94 V548" stroke="#ff0000" stroke-width="1.5" fill="none"/>
<path d="M331.4,519.94 H337.4 M331.4,548 H337.4" stroke="#ff0000" stroke-width="1.4" fill="none"/>
<circle cx="334.4" cy="533.97" r="2.25" fill="#ff0000"/>
<path d="M350.65,506.05 V543.47" stroke="#ff0000" stroke-width="1.5" fill="none"/>
<path d="M347.65,506.05 H353.65 M347.65,543.47 H353.65" stroke="#ff0000" stroke-width="1.4" fill="none"/>
<circle cx="350.65" cy="524.76" r="2.25" fill="#ff0000"/>
<path d="M364.8,529.61 V609.72" stroke="#ff0000" stroke-width="1.5" fill="none"/>
<path d="M361.8,529.61 H367.8 M361.8,609.72 H367.8" stroke="#ff0000" stroke-width="1.4" fill="none"/>
<circle cx="364.8" cy="569.67" r="2.25" fill="#ff0000"/>
<path d="M380.75,510.96 V658.31" stroke="#ff0000" stroke-width="1.5" fill="none"/>
<path d="M377.75,510.96 H383.75 M377.75,658.31 H383.75" stroke="#ff0000" stroke-width="1.4" fill="none"/>
<circle cx="380.75" cy="584.63" r="2.25" fill="#ff0000"/>
<path d="M396.2,450.04 V705.55" stroke="#ff0000" stroke-width="1.5" fill="none"/>
<path d="M393.2,450.04 H399.2 M393.2,705.55 H399.2" stroke="#ff0000" stroke-width="1.4" fill="none"/>
<circle cx="396.2" cy="577.79" r="2.25" fill="#ff0000"/>
<path d="M411.15,366.89 V647.55" stroke="#ff0000" stroke-width="1.5" fill="none"/>
<path d="M408.15,366.89 H414.15 M408.15,647.55 H414.15" stroke="#ff0000" stroke-width="1.4" fill="none"/>
<circle cx="411.15" cy="507.22" r="2.25" fill="#ff0000"/>
<path d="M81.8,452.55 V459.15" stroke="#00a800" stroke-width="1.5" fill="none"/>
<path d="M78.8,454.98 H84.8 M78.8,456.73 H84.8" stroke="#00a800" stroke-width="1.4" fill="none"/>
<circle cx="81.8" cy="455.85" r="2.25" fill="#00a800"/>
<path d="M97.65,456.82 V463.42" stroke="#00a800" stroke-width="1.5" fill="none"/>
<path d="M94.65,459.24 H100.65 M94.65,461 H100.65" stroke="#00a800" stroke-width="1.4" fill="none"/>
<circle cx="97.65" cy="460.12" r="2.25" fill="#00a800"/>
<path d="M113.5,452.12 V458.72" stroke="#00a800" stroke-width="1.5" fill="none"/>
<path d="M110.5,454.54 H116.5 M110.5,456.29 H116.5" stroke="#00a800" stroke-width="1.4" fill="none"/>
<circle cx="113.5" cy="455.42" r="2.25" fill="#00a800"/>
<path d="M129.35,453.2 V459.8" stroke="#00a800" stroke-width="1.5" fill="none"/>
<path d="M126.35,455.62 H132.35 M126.35,457.37 H132.35" stroke="#00a800" stroke-width="1.4" fill="none"/>
<circle cx="129.35" cy="456.5" r="2.25" fill="#00a800"/>
<path d="M145.2,475.65 V482.25" stroke="#00a800" stroke-width="1.5" fill="none"/>
<path d="M142.2,477.78 H148.2 M142.2,480.12 H148.2" stroke="#00a800" stroke-width="1.4" fill="none"/>
<circle cx="145.2" cy="478.95" r="2.25" fill="#00a800"/>
<path d="M161.05,479.89 V486.49" stroke="#00a800" stroke-width="1.5" fill="none"/>
<path d="M158.05,482.02 H164.05 M158.05,484.36 H164.05" stroke="#00a800" stroke-width="1.4" fill="none"/>
<circle cx="161.05" cy="483.19" r="2.25" fill="#00a800"/>
<path d="M176.9,487.64 V494.24" stroke="#00a800" stroke-width="1.5" fill="none"/>
<path d="M173.9,489.47 H179.9 M173.9,492.4 H179.9" stroke="#00a800" stroke-width="1.4" fill="none"/>
<circle cx="176.9" cy="490.94" r="2.25" fill="#00a800"/>
<path d="M192.75,495.53 V502.13" stroke="#00a800" stroke-width="1.5" fill="none"/>
<path d="M189.75,497.37 H195.75 M189.75,500.29 H195.75" stroke="#00a800" stroke-width="1.4" fill="none"/>
<circle cx="192.75" cy="498.83" r="2.25" fill="#00a800"/>
<path d="M208.6,505.62 V512.22" stroke="#00a800" stroke-width="1.5" fill="none"/>
<path d="M205.6,507.16 H211.6 M205.6,510.67 H211.6" stroke="#00a800" stroke-width="1.4" fill="none"/>
<circle cx="208.6" cy="508.92" r="2.25" fill="#00a800"/>
<path d="M224.45,516.14 V522.74" stroke="#00a800" stroke-width="1.5" fill="none"/>
<path d="M221.45,517.39 H227.45 M221.45,521.49 H227.45" stroke="#00a800" stroke-width="1.4" fill="none"/>
<circle cx="224.45" cy="519.44" r="2.25" fill="#00a800"/>
<path d="M240.3,528.51 V535.11" stroke="#00a800" stroke-width="1.5" fill="none"/>
<path d="M237.3,529.47 H243.3 M237.3,534.14 H243.3" stroke="#00a800" stroke-width="1.4" fill="none"/>
<circle cx="240.3" cy="531.81" r="2.25" fill="#00a800"/>
<path d="M256.15,534.73 V541.75" stroke="#00a800" stroke-width="1.5" fill="none"/>
<path d="M253.15,534.73 H259.15 M253.15,541.75 H259.15" stroke="#00a800" stroke-width="1.4" fill="none"/>
<circle cx="256.15" cy="538.24" r="2.25" fill="#00a800"/>
<path d="M272,547.04 V556.39" stroke="#00a800" stroke-width="1.5" fill="none"/>
<path d="M269,547.04 H275 M269,556.39 H275" stroke="#00a800" stroke-width="1.4" fill="none"/>
<circle cx="272" cy="551.72" r="2.25" fill="#00a800"/>
<path d="M286.85,557.21 V571.83" stroke="#00a800" stroke-width="1.5" fill="none"/>
<path d="M283.85,557.21 H289.85 M283.85,571.83 H289.85" stroke="#00a800" stroke-width="1.4" fill="none"/>
<circle cx="286.85" cy="564.52" r="2.25" fill="#00a800"/>
<path d="M302.7,568.15 V589.55" stroke="#00a800" stroke-width="1.5" fill="none"/>
<path d="M299.7,568.15 H305.7 M299.7,589.55 H305.7" stroke="#00a800" stroke-width="1.4" fill="none"/>
<circle cx="302.7" cy="578.85" r="2.25" fill="#00a800"/>
<path d="M318.25,572.53 V605.27" stroke="#00a800" stroke-width="1.5" fill="none"/>
<path d="M315.25,572.53 H321.25 M315.25,605.27 H321.25" stroke="#00a800" stroke-width="1.4" fill="none"/>
<circle cx="318.25" cy="588.9" r="2.25" fill="#00a800"/>
<path d="M334.4,574.28 V627.49" stroke="#00a800" stroke-width="1.5" fill="none"/>
<path d="M331.4,574.28 H337.4 M331.4,627.49 H337.4" stroke="#00a800" stroke-width="1.4" fill="none"/>
<circle cx="334.4" cy="600.89" r="2.25" fill="#00a800"/>
<path d="M350.25,563.23 V644.51" stroke="#00a800" stroke-width="1.5" fill="none"/>
<path d="M347.25,563.23 H353.25 M347.25,644.51 H353.25" stroke="#00a800" stroke-width="1.4" fill="none"/>
<circle cx="350.25" cy="603.87" r="2.25" fill="#00a800"/>
<path d="M364.8,526.84 V739.08" stroke="#00a800" stroke-width="1.5" fill="none"/>
<path d="M361.8,526.84 H367.8 M361.8,739.08 H367.8" stroke="#00a800" stroke-width="1.4" fill="none"/>
<circle cx="364.8" cy="632.96" r="2.25" fill="#00a800"/>
<path d="M381.85,450.59 V816.17" stroke="#00a800" stroke-width="1.5" fill="none"/>
<path d="M378.85,450.59 H384.85 M378.85,816.17 H384.85" stroke="#00a800" stroke-width="1.4" fill="none"/>
<circle cx="381.85" cy="635.94" r="2.25" fill="#00a800"/>
<path d="M399.1,374.2 V816.17" stroke="#00a800" stroke-width="1.5" fill="none"/>
<path d="M396.1,374.2 H402.1 M396.1,816.17 H402.1" stroke="#00a800" stroke-width="1.4" fill="none"/>
<circle cx="399.1" cy="622.7" r="2.25" fill="#00a800"/>
</g>
<rect x="63.4" y="359.9" width="350.9" height="281.05" fill="none" stroke="#000" stroke-width="1.6"/>
<text x="59.1" y="617.78" text-anchor="end" font-size="17.9" letter-spacing="0.1">0.2</text>
<text x="59.1" y="559.31" text-anchor="end" font-size="17.9" letter-spacing="0.1">0.4</text>
<text x="59.1" y="500.84" text-anchor="end" font-size="17.9" letter-spacing="0.1">0.6</text>
<text x="59.1" y="442.37" text-anchor="end" font-size="17.9" letter-spacing="0.1">0.8</text>
<text x="59.1" y="383.9" text-anchor="end" font-size="17.9" letter-spacing="0.1">1.0</text>
<text x="97.9" y="664.85" font-size="18.2">10</text>
<text class="gp" transform="translate(116.5,657.4) scale(0.86,1)" font-size="14">13</text>
<text x="256.4" y="664.85" font-size="18.2">10</text>
<text class="gp" transform="translate(275,657.4) scale(0.86,1)" font-size="14">14</text>
<path d="M63.4,626.15 h2.8 M414.3,626.15 h-2.8 M63.4,611.53 h4.6 M414.3,611.53 h-4.6 M63.4,596.91 h2.8 M414.3,596.91 h-2.8 M63.4,582.29 h2.8 M414.3,582.29 h-2.8 M63.4,567.68 h2.8 M414.3,567.68 h-2.8 M63.4,553.06 h4.6 M414.3,553.06 h-4.6 M63.4,538.44 h2.8 M414.3,538.44 h-2.8 M63.4,523.83 h2.8 M414.3,523.83 h-2.8 M63.4,509.21 h2.8 M414.3,509.21 h-2.8 M63.4,494.59 h4.6 M414.3,494.59 h-4.6 M63.4,479.97 h2.8 M414.3,479.97 h-2.8 M63.4,465.35 h2.8 M414.3,465.35 h-2.8 M63.4,450.74 h2.8 M414.3,450.74 h-2.8 M63.4,436.12 h4.6 M414.3,436.12 h-4.6 M63.4,421.5 h2.8 M414.3,421.5 h-2.8 M63.4,406.88 h2.8 M414.3,406.88 h-2.8 M63.4,392.27 h2.8 M414.3,392.27 h-2.8 M63.4,377.65 h4.6 M414.3,377.65 h-4.6 M63.4,363.03 h2.8 M414.3,363.03 h-2.8 M65.79,640.95 v-1.9 M65.79,359.9 v1.9 M78.34,640.95 v-1.9 M78.34,359.9 v1.9 M88.95,640.95 v-1.9 M88.95,359.9 v1.9 M98.14,640.95 v-1.9 M98.14,359.9 v1.9 M106.25,640.95 v-1.9 M106.25,359.9 v1.9 M113.5,640.95 v-3.9 M113.5,359.9 v3.9 M161.21,640.95 v-1.9 M161.21,359.9 v1.9 M189.12,640.95 v-1.9 M189.12,359.9 v1.9 M208.93,640.95 v-1.9 M208.93,359.9 v1.9 M224.29,640.95 v-1.9 M224.29,359.9 v1.9 M236.84,640.95 v-1.9 M236.84,359.9 v1.9 M247.45,640.95 v-1.9 M247.45,359.9 v1.9 M256.64,640.95 v-1.9 M256.64,359.9 v1.9 M264.75,640.95 v-1.9 M264.75,359.9 v1.9 M272,640.95 v-3.9 M272,359.9 v3.9 M319.71,640.95 v-1.9 M319.71,359.9 v1.9 M347.62,640.95 v-1.9 M347.62,359.9 v1.9 M367.43,640.95 v-1.9 M367.43,359.9 v1.9 M382.79,640.95 v-1.9 M382.79,359.9 v1.9 M395.34,640.95 v-1.9 M395.34,359.9 v1.9 M405.95,640.95 v-1.9 M405.95,359.9 v1.9" stroke="#000" stroke-width="1.3" fill="none"/>
<text y="696.1" font-size="18.3"><tspan x="196.4" font-style="italic">M</tspan><tspan x="218.7">[</tspan><tspan x="224.55" font-style="italic">h</tspan><tspan x="249.15" font-style="italic">M</tspan><tspan x="275.8">]</tspan></text>
<text class="gp" y="689.45" font-size="12.3"><tspan x="234.4">−</tspan><tspan x="241.9">1</tspan></text>
<circle cx="270" cy="698.3" r="3.95" fill="none" stroke="#000" stroke-width="1.0"/><circle cx="270" cy="698.3" r="1.05" fill="#000"/>
<text transform="translate(22.6,499.62) rotate(-90)" text-anchor="middle" font-size="18.2">ratio to ΛCDM</text>
<text y="397.35" font-size="18.2"><tspan x="301.5" font-style="italic">z</tspan><tspan x="313.6" dy="1.6">=</tspan><tspan x="330" dy="-1.6">1</tspan></text>
<clipPath id="clip3"><rect x="483.5" y="358" width="353.9" height="284.85"/></clipPath>
<g clip-path="url(#clip3)">
<line x1="484.7" y1="377.65" x2="837" y2="377.65" stroke="#000" stroke-width="1.6"/>
<path d="M484.7,402.55 L489.84,403.22 L494.98,403.9 L500.12,404.59 L505.26,405.3 L510.4,406.03 L515.55,406.78 L520.69,407.55 L525.83,408.34 L530.97,409.14 L536.11,409.97 L541.25,410.82 L546.39,411.69 L551.53,412.58 L556.67,413.5 L561.81,414.43 L566.95,415.4 L572.09,416.38 L577.24,417.4 L582.38,418.43 L587.52,419.5 L592.66,420.6 L597.8,421.72 L602.94,422.87 L608.08,424.05 L613.22,425.27 L618.36,426.52 L623.5,427.8 L628.64,429.11 L633.79,430.46 L638.93,431.85 L644.07,433.27 L649.21,434.73 L654.35,436.23 L659.49,437.77 L664.63,439.36 L669.77,440.98 L674.91,442.65 L680.05,444.37 L685.19,446.13 L690.33,447.94 L695.48,449.8 L700.62,451.71 L705.76,453.67 L710.9,455.68 L716.04,457.75 L721.18,459.88 L726.32,462.06 L731.46,464.29 L736.6,466.59 L741.74,468.95 L746.88,471.37 L752.03,473.85 L757.17,476.4 L762.31,479.01 L767.45,481.69 L772.59,484.43 L777.73,487.25 L782.87,490.13 L788.01,493.08 L793.15,496.11 L798.29,499.2 L803.43,502.36 L808.57,505.6 L813.72,508.91 L818.86,512.29 L824,515.74 L829.14,519.26 L834.28,522.84 L839.42,526.5" fill="none" stroke="#0000ff" stroke-width="1.9"/>
<path d="M484.7,409.07 L489.84,409.79 L494.98,410.55 L500.12,411.33 L505.26,412.14 L510.4,412.97 L515.55,413.84 L520.69,414.74 L525.83,415.67 L530.97,416.63 L536.11,417.63 L541.25,418.66 L546.39,419.72 L551.53,420.82 L556.67,421.96 L561.81,423.14 L566.95,424.35 L572.09,425.61 L577.24,426.9 L582.38,428.24 L587.52,429.62 L592.66,431.05 L597.8,432.52 L602.94,434.03 L608.08,435.59 L613.22,437.2 L618.36,438.86 L623.5,440.57 L628.64,442.32 L633.79,444.13 L638.93,445.99 L644.07,447.9 L649.21,449.87 L654.35,451.88 L659.49,453.96 L664.63,456.08 L669.77,458.26 L674.91,460.5 L680.05,462.79 L685.19,465.14 L690.33,467.55 L695.48,470.01 L700.62,472.52 L705.76,475.09 L710.9,477.72 L716.04,480.4 L721.18,483.13 L726.32,485.92 L731.46,488.75 L736.6,491.64 L741.74,494.58 L746.88,497.57 L752.03,500.6 L757.17,503.68 L762.31,506.79 L767.45,509.95 L772.59,513.15 L777.73,516.39 L782.87,519.65 L788.01,522.95 L793.15,526.28 L798.29,529.63 L803.43,533 L808.57,536.39 L813.72,539.79 L818.86,543.2 L824,546.62 L829.14,550.04 L834.28,553.47 L839.42,556.88" fill="none" stroke="#0000ff" stroke-width="1.9" stroke-dasharray="7,4.7"/>
<path d="M484.7,423.93 L489.84,424.91 L494.98,425.94 L500.12,427 L505.26,428.09 L510.4,429.22 L515.55,430.39 L520.69,431.6 L525.83,432.84 L530.97,434.13 L536.11,435.46 L541.25,436.83 L546.39,438.24 L551.53,439.7 L556.67,441.2 L561.81,442.75 L566.95,444.35 L572.09,445.99 L577.24,447.68 L582.38,449.42 L587.52,451.21 L592.66,453.05 L597.8,454.95 L602.94,456.89 L608.08,458.89 L613.22,460.94 L618.36,463.05 L623.5,465.21 L628.64,467.42 L633.79,469.69 L638.93,472.02 L644.07,474.4 L649.21,476.84 L654.35,479.33 L659.49,481.88 L664.63,484.49 L669.77,487.15 L674.91,489.86 L680.05,492.63 L685.19,495.45 L690.33,498.32 L695.48,501.24 L700.62,504.22 L705.76,507.24 L710.9,510.31 L716.04,513.42 L721.18,516.58 L726.32,519.78 L731.46,523.01 L736.6,526.28 L741.74,529.59 L746.88,532.93 L752.03,536.29 L757.17,539.68 L762.31,543.09 L767.45,546.52 L772.59,549.96 L777.73,553.42 L782.87,556.88 L788.01,560.34 L793.15,563.8 L798.29,567.25 L803.43,570.69 L808.57,574.12 L813.72,577.53 L818.86,580.92 L824,584.27 L829.14,587.6 L834.28,590.88 L839.42,594.13" fill="none" stroke="#ff0000" stroke-width="1.9"/>
<path d="M484.7,435.54 L489.84,436.9 L494.98,438.29 L500.12,439.73 L505.26,441.2 L510.4,442.71 L515.55,444.26 L520.69,445.86 L525.83,447.49 L530.97,449.17 L536.11,450.89 L541.25,452.66 L546.39,454.47 L551.53,456.32 L556.67,458.22 L561.81,460.17 L566.95,462.16 L572.09,464.2 L577.24,466.29 L582.38,468.43 L587.52,470.62 L592.66,472.86 L597.8,475.15 L602.94,477.49 L608.08,479.87 L613.22,482.31 L618.36,484.8 L623.5,487.34 L628.64,489.93 L633.79,492.57 L638.93,495.26 L644.07,498 L649.21,500.79 L654.35,503.62 L659.49,506.51 L664.63,509.44 L669.77,512.41 L674.91,515.43 L680.05,518.5 L685.19,521.6 L690.33,524.74 L695.48,527.93 L700.62,531.14 L705.76,534.4 L710.9,537.68 L716.04,540.99 L721.18,544.33 L726.32,547.7 L731.46,551.08 L736.6,554.48 L741.74,557.9 L746.88,561.33 L752.03,564.76 L757.17,568.2 L762.31,571.64 L767.45,575.07 L772.59,578.5 L777.73,581.91 L782.87,585.3 L788.01,588.68 L793.15,592.02 L798.29,595.34 L803.43,598.62 L808.57,601.86 L813.72,605.05 L818.86,608.2 L824,611.29 L829.14,614.32 L834.28,617.3 L839.42,620.2" fill="none" stroke="#ff0000" stroke-width="1.9" stroke-dasharray="7,4.7"/>
<path d="M484.7,461.42 L489.84,463.39 L494.98,465.38 L500.12,467.41 L505.26,469.47 L510.4,471.57 L515.55,473.71 L520.69,475.87 L525.83,478.08 L530.97,480.32 L536.11,482.59 L541.25,484.9 L546.39,487.25 L551.53,489.63 L556.67,492.05 L561.81,494.51 L566.95,497 L572.09,499.53 L577.24,502.1 L582.38,504.7 L587.52,507.34 L592.66,510.01 L597.8,512.72 L602.94,515.47 L608.08,518.25 L613.22,521.07 L618.36,523.92 L623.5,526.8 L628.64,529.71 L633.79,532.66 L638.93,535.64 L644.07,538.64 L649.21,541.68 L654.35,544.74 L659.49,547.83 L664.63,550.94 L669.77,554.08 L674.91,557.24 L680.05,560.41 L685.19,563.6 L690.33,566.81 L695.48,570.03 L700.62,573.25 L705.76,576.49 L710.9,579.72 L716.04,582.96 L721.18,586.19 L726.32,589.42 L731.46,592.64 L736.6,595.84 L741.74,599.02 L746.88,602.18 L752.03,605.32 L757.17,608.42 L762.31,611.49 L767.45,614.52 L772.59,617.5 L777.73,620.43 L782.87,623.31 L788.01,626.13 L793.15,628.88 L798.29,631.57 L803.43,634.18 L808.57,636.71 L813.72,639.16 L818.86,641.53 L824,643.8 L829.14,645.98 L834.28,648.06 L839.42,650.04" fill="none" stroke="#00a800" stroke-width="1.9"/>
<path d="M484.7,482.92 L489.84,485.23 L494.98,487.57 L500.12,489.95 L505.26,492.36 L510.4,494.8 L515.55,497.28 L520.69,499.8 L525.83,502.34 L530.97,504.93 L536.11,507.54 L541.25,510.19 L546.39,512.87 L551.53,515.59 L556.67,518.34 L561.81,521.12 L566.95,523.93 L572.09,526.77 L577.24,529.64 L582.38,532.54 L587.52,535.47 L592.66,538.43 L597.8,541.41 L602.94,544.42 L608.08,547.45 L613.22,550.5 L618.36,553.58 L623.5,556.67 L628.64,559.78 L633.79,562.9 L638.93,566.04 L644.07,569.18 L649.21,572.34 L654.35,575.5 L659.49,578.66 L664.63,581.83 L669.77,584.99 L674.91,588.14 L680.05,591.29 L685.19,594.42 L690.33,597.53 L695.48,600.63 L700.62,603.7 L705.76,606.74 L710.9,609.75 L716.04,612.72 L721.18,615.65 L726.32,618.54 L731.46,621.38 L736.6,624.16 L741.74,626.89 L746.88,629.55 L752.03,632.14 L757.17,634.67 L762.31,637.12 L767.45,639.49 L772.59,641.77 L777.73,643.97 L782.87,646.09 L788.01,648.11 L793.15,650.03 L798.29,651.86 L803.43,653.59 L808.57,655.22 L813.72,656.75 L818.86,658.18 L824,659.51 L829.14,660.74 L834.28,661.87 L839.42,662.91" fill="none" stroke="#00a800" stroke-width="1.9" stroke-dasharray="7,4.7"/>
<path d="M504.7,411.95 V418.55" stroke="#0000ff" stroke-width="1.5" fill="none"/>
<path d="M501.7,414.37 H507.7 M501.7,416.12 H507.7" stroke="#0000ff" stroke-width="1.4" fill="none"/>
<circle cx="504.7" cy="415.25" r="2.25" fill="#0000ff"/>
<path d="M521.8,405.75 V412.35" stroke="#0000ff" stroke-width="1.5" fill="none"/>
<path d="M518.8,408.17 H524.8 M518.8,409.93 H524.8" stroke="#0000ff" stroke-width="1.4" fill="none"/>
<circle cx="521.8" cy="409.05" r="2.25" fill="#0000ff"/>
<path d="M538.9,401.25 V407.85" stroke="#0000ff" stroke-width="1.5" fill="none"/>
<path d="M535.9,403.67 H541.9 M535.9,405.42 H541.9" stroke="#0000ff" stroke-width="1.4" fill="none"/>
<circle cx="538.9" cy="404.55" r="2.25" fill="#0000ff"/>
<path d="M556,405.11 V411.71" stroke="#0000ff" stroke-width="1.5" fill="none"/>
<path d="M553,407.53 H559 M553,409.28 H559" stroke="#0000ff" stroke-width="1.4" fill="none"/>
<circle cx="556" cy="408.41" r="2.25" fill="#0000ff"/>
<path d="M573.1,417.27 V423.87" stroke="#0000ff" stroke-width="1.5" fill="none"/>
<path d="M570.1,419.69 H576.1 M570.1,421.44 H576.1" stroke="#0000ff" stroke-width="1.4" fill="none"/>
<circle cx="573.1" cy="420.57" r="2.25" fill="#0000ff"/>
<path d="M590.2,420.07 V426.67" stroke="#0000ff" stroke-width="1.5" fill="none"/>
<path d="M587.2,422.2 H593.2 M587.2,424.54 H593.2" stroke="#0000ff" stroke-width="1.4" fill="none"/>
<circle cx="590.2" cy="423.37" r="2.25" fill="#0000ff"/>
<path d="M607.3,419.43 V426.03" stroke="#0000ff" stroke-width="1.5" fill="none"/>
<path d="M604.3,421.56 H610.3 M604.3,423.9 H610.3" stroke="#0000ff" stroke-width="1.4" fill="none"/>
<circle cx="607.3" cy="422.73" r="2.25" fill="#0000ff"/>
<path d="M624.4,424.75 V431.35" stroke="#0000ff" stroke-width="1.5" fill="none"/>
<path d="M621.4,426.59 H627.4 M621.4,429.51 H627.4" stroke="#0000ff" stroke-width="1.4" fill="none"/>
<circle cx="624.4" cy="428.05" r="2.25" fill="#0000ff"/>
<path d="M641.5,432.24 V438.84" stroke="#0000ff" stroke-width="1.5" fill="none"/>
<path d="M638.5,433.78 H644.5 M638.5,437.29 H644.5" stroke="#0000ff" stroke-width="1.4" fill="none"/>
<circle cx="641.5" cy="435.54" r="2.25" fill="#0000ff"/>
<path d="M658.6,438.23 V444.83" stroke="#0000ff" stroke-width="1.5" fill="none"/>
<path d="M655.6,439.48 H661.6 M655.6,443.57 H661.6" stroke="#0000ff" stroke-width="1.4" fill="none"/>
<circle cx="658.6" cy="441.53" r="2.25" fill="#0000ff"/>
<path d="M674.9,443.58 V450.18" stroke="#0000ff" stroke-width="1.5" fill="none"/>
<path d="M671.9,444.25 H677.9 M671.9,449.51 H677.9" stroke="#0000ff" stroke-width="1.4" fill="none"/>
<circle cx="674.9" cy="446.88" r="2.25" fill="#0000ff"/>
<path d="M692,451.06 V457.66" stroke="#0000ff" stroke-width="1.5" fill="none"/>
<path d="M689,451.15 H695 M689,457.58 H695" stroke="#0000ff" stroke-width="1.4" fill="none"/>
<circle cx="692" cy="454.36" r="2.25" fill="#0000ff"/>
<path d="M708.7,453.25 V463.19" stroke="#0000ff" stroke-width="1.5" fill="none"/>
<path d="M705.7,453.25 H711.7 M705.7,463.19 H711.7" stroke="#0000ff" stroke-width="1.4" fill="none"/>
<circle cx="708.7" cy="458.22" r="2.25" fill="#0000ff"/>
<path d="M725.8,466.55 V481.52" stroke="#0000ff" stroke-width="1.5" fill="none"/>
<path d="M722.8,466.55 H728.8 M722.8,481.52 H728.8" stroke="#0000ff" stroke-width="1.4" fill="none"/>
<circle cx="725.8" cy="474.04" r="2.25" fill="#0000ff"/>
<path d="M742.6,463.37 V483.83" stroke="#0000ff" stroke-width="1.5" fill="none"/>
<path d="M739.6,463.37 H745.6 M739.6,483.83 H745.6" stroke="#0000ff" stroke-width="1.4" fill="none"/>
<circle cx="742.6" cy="473.6" r="2.25" fill="#0000ff"/>
<path d="M759.7,478.69 V512.01" stroke="#0000ff" stroke-width="1.5" fill="none"/>
<path d="M756.7,478.69 H762.7 M756.7,512.01 H762.7" stroke="#0000ff" stroke-width="1.4" fill="none"/>
<circle cx="759.7" cy="495.35" r="2.25" fill="#0000ff"/>
<path d="M776.8,444.92 V488.19" stroke="#0000ff" stroke-width="1.5" fill="none"/>
<path d="M773.8,444.92 H779.8 M773.8,488.19 H779.8" stroke="#0000ff" stroke-width="1.4" fill="none"/>
<circle cx="776.8" cy="466.55" r="2.25" fill="#0000ff"/>
<path d="M792.8,481.08 V582.53" stroke="#0000ff" stroke-width="1.5" fill="none"/>
<path d="M789.8,481.08 H795.8 M789.8,582.53 H795.8" stroke="#0000ff" stroke-width="1.4" fill="none"/>
<circle cx="792.8" cy="531.81" r="2.25" fill="#0000ff"/>
<path d="M811,436.82 V632.4" stroke="#0000ff" stroke-width="1.5" fill="none"/>
<path d="M808,436.82 H814 M808,632.4 H814" stroke="#0000ff" stroke-width="1.4" fill="none"/>
<circle cx="811" cy="534.61" r="2.25" fill="#0000ff"/>
<path d="M504.7,445.27 V451.87" stroke="#ff0000" stroke-width="1.5" fill="none"/>
<path d="M501.7,447.7 H507.7 M501.7,449.45 H507.7" stroke="#ff0000" stroke-width="1.4" fill="none"/>
<circle cx="504.7" cy="448.57" r="2.25" fill="#ff0000"/>
<path d="M521.8,437.79 V444.39" stroke="#ff0000" stroke-width="1.5" fill="none"/>
<path d="M518.8,440.21 H524.8 M518.8,441.97 H524.8" stroke="#ff0000" stroke-width="1.4" fill="none"/>
<circle cx="521.8" cy="441.09" r="2.25" fill="#ff0000"/>
<path d="M538.9,428.17 V434.77" stroke="#ff0000" stroke-width="1.5" fill="none"/>
<path d="M535.9,430.59 H541.9 M535.9,432.35 H541.9" stroke="#ff0000" stroke-width="1.4" fill="none"/>
<circle cx="538.9" cy="431.47" r="2.25" fill="#ff0000"/>
<path d="M556,441.01 V447.61" stroke="#ff0000" stroke-width="1.5" fill="none"/>
<path d="M553,443.43 H559 M553,445.18 H559" stroke="#ff0000" stroke-width="1.4" fill="none"/>
<circle cx="556" cy="444.31" r="2.25" fill="#ff0000"/>
<path d="M573.1,454.25 V460.85" stroke="#ff0000" stroke-width="1.5" fill="none"/>
<path d="M570.1,456.38 H576.1 M570.1,458.72 H576.1" stroke="#ff0000" stroke-width="1.4" fill="none"/>
<circle cx="573.1" cy="457.55" r="2.25" fill="#ff0000"/>
<path d="M590.2,455.33 V461.93" stroke="#ff0000" stroke-width="1.5" fill="none"/>
<path d="M587.2,457.46 H593.2 M587.2,459.8 H593.2" stroke="#ff0000" stroke-width="1.4" fill="none"/>
<circle cx="590.2" cy="458.63" r="2.25" fill="#ff0000"/>
<path d="M607.3,457.47 V464.07" stroke="#ff0000" stroke-width="1.5" fill="none"/>
<path d="M604.3,459.3 H610.3 M604.3,462.23 H610.3" stroke="#ff0000" stroke-width="1.4" fill="none"/>
<circle cx="607.3" cy="460.77" r="2.25" fill="#ff0000"/>
<path d="M624.4,468.78 V475.38" stroke="#ff0000" stroke-width="1.5" fill="none"/>
<path d="M621.4,470.32 H627.4 M621.4,473.83 H627.4" stroke="#ff0000" stroke-width="1.4" fill="none"/>
<circle cx="624.4" cy="472.08" r="2.25" fill="#ff0000"/>
<path d="M641.5,476.09 V482.69" stroke="#ff0000" stroke-width="1.5" fill="none"/>
<path d="M638.5,477.34 H644.5 M638.5,481.43 H644.5" stroke="#ff0000" stroke-width="1.4" fill="none"/>
<circle cx="641.5" cy="479.39" r="2.25" fill="#ff0000"/>
<path d="M658.6,486.99 V493.59" stroke="#ff0000" stroke-width="1.5" fill="none"/>
<path d="M655.6,487.66 H661.6 M655.6,492.92 H661.6" stroke="#ff0000" stroke-width="1.4" fill="none"/>
<circle cx="658.6" cy="490.29" r="2.25" fill="#ff0000"/>
<path d="M674.9,496.61 V503.21" stroke="#ff0000" stroke-width="1.5" fill="none"/>
<path d="M671.9,496.99 H677.9 M671.9,502.83 H677.9" stroke="#ff0000" stroke-width="1.4" fill="none"/>
<circle cx="674.9" cy="499.91" r="2.25" fill="#ff0000"/>
<path d="M692,500.52 V508.13" stroke="#ff0000" stroke-width="1.5" fill="none"/>
<path d="M689,500.52 H695 M689,508.13 H695" stroke="#ff0000" stroke-width="1.4" fill="none"/>
<circle cx="692" cy="504.33" r="2.25" fill="#ff0000"/>
<path d="M708.7,506.58 V519.85" stroke="#ff0000" stroke-width="1.5" fill="none"/>
<path d="M705.7,506.58 H711.7 M705.7,519.85 H711.7" stroke="#ff0000" stroke-width="1.4" fill="none"/>
<circle cx="708.7" cy="513.21" r="2.25" fill="#ff0000"/>
<path d="M725.8,521.05 V541.34" stroke="#ff0000" stroke-width="1.5" fill="none"/>
<path d="M722.8,521.05 H728.8 M722.8,541.34 H728.8" stroke="#ff0000" stroke-width="1.4" fill="none"/>
<circle cx="725.8" cy="531.19" r="2.25" fill="#ff0000"/>
<path d="M742.6,523.47 V553.88" stroke="#ff0000" stroke-width="1.5" fill="none"/>
<path d="M739.6,523.47 H745.6 M739.6,553.88 H745.6" stroke="#ff0000" stroke-width="1.4" fill="none"/>
<circle cx="742.6" cy="538.68" r="2.25" fill="#ff0000"/>
<path d="M760.3,527.1 V577.15" stroke="#ff0000" stroke-width="1.5" fill="none"/>
<path d="M757.3,527.1 H763.3 M757.3,577.15 H763.3" stroke="#ff0000" stroke-width="1.4" fill="none"/>
<circle cx="760.3" cy="552.12" r="2.25" fill="#ff0000"/>
<path d="M775.7,512.54 V584.46" stroke="#ff0000" stroke-width="1.5" fill="none"/>
<path d="M772.7,512.54 H778.7 M772.7,584.46 H778.7" stroke="#ff0000" stroke-width="1.4" fill="none"/>
<circle cx="775.7" cy="548.5" r="2.25" fill="#ff0000"/>
<path d="M793.9,502.86 V664.24" stroke="#ff0000" stroke-width="1.5" fill="none"/>
<path d="M790.9,502.86 H796.9 M790.9,664.24 H796.9" stroke="#ff0000" stroke-width="1.4" fill="none"/>
<circle cx="793.9" cy="583.55" r="2.25" fill="#ff0000"/>
<path d="M811,269.71 V816.17" stroke="#ff0000" stroke-width="1.5" fill="none"/>
<path d="M808,269.71 H814 M808,816.17 H814" stroke="#ff0000" stroke-width="1.4" fill="none"/>
<circle cx="811" cy="620.53" r="2.25" fill="#ff0000"/>
<path d="M504.7,474.57 V481.17" stroke="#00a800" stroke-width="1.5" fill="none"/>
<path d="M501.7,476.99 H507.7 M501.7,478.74 H507.7" stroke="#00a800" stroke-width="1.4" fill="none"/>
<circle cx="504.7" cy="477.87" r="2.25" fill="#00a800"/>
<path d="M521.8,482.52 V489.12" stroke="#00a800" stroke-width="1.5" fill="none"/>
<path d="M518.8,484.94 H524.8 M518.8,486.7 H524.8" stroke="#00a800" stroke-width="1.4" fill="none"/>
<circle cx="521.8" cy="485.82" r="2.25" fill="#00a800"/>
<path d="M538.9,480.36 V486.96" stroke="#00a800" stroke-width="1.5" fill="none"/>
<path d="M535.9,482.78 H541.9 M535.9,484.53 H541.9" stroke="#00a800" stroke-width="1.4" fill="none"/>
<circle cx="538.9" cy="483.66" r="2.25" fill="#00a800"/>
<path d="M556,484.86 V491.46" stroke="#00a800" stroke-width="1.5" fill="none"/>
<path d="M553,487.28 H559 M553,489.04 H559" stroke="#00a800" stroke-width="1.4" fill="none"/>
<circle cx="556" cy="488.16" r="2.25" fill="#00a800"/>
<path d="M573.1,507.14 V513.74" stroke="#00a800" stroke-width="1.5" fill="none"/>
<path d="M570.1,509.27 H576.1 M570.1,511.6 H576.1" stroke="#00a800" stroke-width="1.4" fill="none"/>
<circle cx="573.1" cy="510.44" r="2.25" fill="#00a800"/>
<path d="M590.2,513.57 V520.17" stroke="#00a800" stroke-width="1.5" fill="none"/>
<path d="M587.2,515.41 H593.2 M587.2,518.33 H593.2" stroke="#00a800" stroke-width="1.4" fill="none"/>
<circle cx="590.2" cy="516.87" r="2.25" fill="#00a800"/>
<path d="M607.3,522.1 V528.7" stroke="#00a800" stroke-width="1.5" fill="none"/>
<path d="M604.3,523.65 H610.3 M604.3,527.16 H610.3" stroke="#00a800" stroke-width="1.4" fill="none"/>
<circle cx="607.3" cy="525.4" r="2.25" fill="#00a800"/>
<path d="M624.4,530.67 V537.27" stroke="#00a800" stroke-width="1.5" fill="none"/>
<path d="M621.4,531.63 H627.4 M621.4,536.31 H627.4" stroke="#00a800" stroke-width="1.4" fill="none"/>
<circle cx="624.4" cy="533.97" r="2.25" fill="#00a800"/>
<path d="M641.5,540.93 V547.53" stroke="#00a800" stroke-width="1.5" fill="none"/>
<path d="M638.5,541.31 H644.5 M638.5,547.15 H644.5" stroke="#00a800" stroke-width="1.4" fill="none"/>
<circle cx="641.5" cy="544.23" r="2.25" fill="#00a800"/>
<path d="M658.6,550.9 V558.5" stroke="#00a800" stroke-width="1.5" fill="none"/>
<path d="M655.6,550.9 H661.6 M655.6,558.5 H661.6" stroke="#00a800" stroke-width="1.4" fill="none"/>
<circle cx="658.6" cy="554.7" r="2.25" fill="#00a800"/>
<path d="M674.9,562.04 V574.31" stroke="#00a800" stroke-width="1.5" fill="none"/>
<path d="M671.9,562.04 H677.9 M671.9,574.31 H677.9" stroke="#00a800" stroke-width="1.4" fill="none"/>
<circle cx="674.9" cy="568.17" r="2.25" fill="#00a800"/>
<path d="M692,570.51 V587.18" stroke="#00a800" stroke-width="1.5" fill="none"/>
<path d="M689,570.51 H695 M689,587.18 H695" stroke="#00a800" stroke-width="1.4" fill="none"/>
<circle cx="692" cy="578.85" r="2.25" fill="#00a800"/>
<path d="M708.7,576.04 V601.77" stroke="#00a800" stroke-width="1.5" fill="none"/>
<path d="M705.7,576.04 H711.7 M705.7,601.77 H711.7" stroke="#00a800" stroke-width="1.4" fill="none"/>
<circle cx="708.7" cy="588.9" r="2.25" fill="#00a800"/>
<path d="M725.8,581.42 V621.18" stroke="#00a800" stroke-width="1.5" fill="none"/>
<path d="M722.8,581.42 H728.8 M722.8,621.18 H728.8" stroke="#00a800" stroke-width="1.4" fill="none"/>
<circle cx="725.8" cy="601.3" r="2.25" fill="#00a800"/>
<path d="M742.6,578.9 V650.24" stroke="#00a800" stroke-width="1.5" fill="none"/>
<path d="M739.6,578.9 H745.6 M739.6,650.24 H745.6" stroke="#00a800" stroke-width="1.4" fill="none"/>
<circle cx="742.6" cy="614.57" r="2.25" fill="#00a800"/>
<path d="M759.7,561.33 V658.39" stroke="#00a800" stroke-width="1.5" fill="none"/>
<path d="M756.7,561.33 H762.7 M756.7,658.39 H762.7" stroke="#00a800" stroke-width="1.4" fill="none"/>
<circle cx="759.7" cy="609.86" r="2.25" fill="#00a800"/>
<path d="M776.8,521.57 V737.91" stroke="#00a800" stroke-width="1.5" fill="none"/>
<path d="M773.8,521.57 H779.8 M773.8,737.91 H779.8" stroke="#00a800" stroke-width="1.4" fill="none"/>
<circle cx="776.8" cy="629.74" r="2.25" fill="#00a800"/>
<path d="M795.6,231.47 V816.17" stroke="#00a800" stroke-width="1.5" fill="none"/>
<path d="M792.6,231.47 H798.6 M792.6,816.17 H798.6" stroke="#00a800" stroke-width="1.4" fill="none"/>
<path d="M827.2,231.47 V816.17" stroke="#00a800" stroke-width="1.5" fill="none"/>
<path d="M824.2,231.47 H830.2 M824.2,816.17 H830.2" stroke="#00a800" stroke-width="1.4" fill="none"/>
</g>
<rect x="484.7" y="359.9" width="351.3" height="281.05" fill="none" stroke="#000" stroke-width="1.6"/>
<text x="480.4" y="617.78" text-anchor="end" font-size="17.9" letter-spacing="0.1">0.2</text>
<text x="480.4" y="559.31" text-anchor="end" font-size="17.9" letter-spacing="0.1">0.4</text>
<text x="480.4" y="500.84" text-anchor="end" font-size="17.9" letter-spacing="0.1">0.6</text>
<text x="480.4" y="442.37" text-anchor="end" font-size="17.9" letter-spacing="0.1">0.8</text>
<text x="480.4" y="383.9" text-anchor="end" font-size="17.9" letter-spacing="0.1">1.0</text>
<text x="523.3" y="664.85" font-size="18.2">10</text>
<text class="gp" transform="translate(541.9,657.4) scale(0.86,1)" font-size="14">13</text>
<text x="694.3" y="664.85" font-size="18.2">10</text>
<text class="gp" transform="translate(712.9,657.4) scale(0.86,1)" font-size="14">14</text>
<path d="M484.7,626.15 h2.8 M836,626.15 h-2.8 M484.7,611.53 h4.6 M836,611.53 h-4.6 M484.7,596.91 h2.8 M836,596.91 h-2.8 M484.7,582.29 h2.8 M836,582.29 h-2.8 M484.7,567.68 h2.8 M836,567.68 h-2.8 M484.7,553.06 h4.6 M836,553.06 h-4.6 M484.7,538.44 h2.8 M836,538.44 h-2.8 M484.7,523.83 h2.8 M836,523.83 h-2.8 M484.7,509.21 h2.8 M836,509.21 h-2.8 M484.7,494.59 h4.6 M836,494.59 h-4.6 M484.7,479.97 h2.8 M836,479.97 h-2.8 M484.7,465.35 h2.8 M836,465.35 h-2.8 M484.7,450.74 h2.8 M836,450.74 h-2.8 M484.7,436.12 h4.6 M836,436.12 h-4.6 M484.7,421.5 h2.8 M836,421.5 h-2.8 M484.7,406.88 h2.8 M836,406.88 h-2.8 M484.7,392.27 h2.8 M836,392.27 h-2.8 M484.7,377.65 h4.6 M836,377.65 h-4.6 M484.7,363.03 h2.8 M836,363.03 h-2.8 M487.42,640.95 v-1.9 M487.42,359.9 v1.9 M500.96,640.95 v-1.9 M500.96,359.9 v1.9 M512.41,640.95 v-1.9 M512.41,359.9 v1.9 M522.33,640.95 v-1.9 M522.33,359.9 v1.9 M531.08,640.95 v-1.9 M531.08,359.9 v1.9 M538.9,640.95 v-3.9 M538.9,359.9 v3.9 M590.38,640.95 v-1.9 M590.38,359.9 v1.9 M620.49,640.95 v-1.9 M620.49,359.9 v1.9 M641.85,640.95 v-1.9 M641.85,359.9 v1.9 M658.42,640.95 v-1.9 M658.42,359.9 v1.9 M671.96,640.95 v-1.9 M671.96,359.9 v1.9 M683.41,640.95 v-1.9 M683.41,359.9 v1.9 M693.33,640.95 v-1.9 M693.33,359.9 v1.9 M702.08,640.95 v-1.9 M702.08,359.9 v1.9 M709.9,640.95 v-3.9 M709.9,359.9 v3.9 M761.38,640.95 v-1.9 M761.38,359.9 v1.9 M791.49,640.95 v-1.9 M791.49,359.9 v1.9 M812.85,640.95 v-1.9 M812.85,359.9 v1.9 M829.42,640.95 v-1.9 M829.42,359.9 v1.9" stroke="#000" stroke-width="1.3" fill="none"/>
<text y="696.1" font-size="18.3"><tspan x="617.7" font-style="italic">M</tspan><tspan x="640">[</tspan><tspan x="645.85" font-style="italic">h</tspan><tspan x="670.45" font-style="italic">M</tspan><tspan x="697.1">]</tspan></text>
<text class="gp" y="689.45" font-size="12.3"><tspan x="655.7">−</tspan><tspan x="663.2">1</tspan></text>
<circle cx="691.3" cy="698.3" r="3.95" fill="none" stroke="#000" stroke-width="1.0"/><circle cx="691.3" cy="698.3" r="1.05" fill="#000"/>
<text transform="translate(443.9,499.62) rotate(-90)" text-anchor="middle" font-size="18.2">ratio to ΛCDM</text>
<text y="397.35" font-size="18.2"><tspan x="722.8" font-style="italic">z</tspan><tspan x="734.9" dy="1.6">=</tspan><tspan x="751.3" dy="-1.6">1.5</tspan></text>
<path d="M92.2,179 H120.5 M92.2,176.8 v4.4 M120.5,176.8 v4.4" stroke="#000000" stroke-width="1" fill="none" opacity="0.85"/>
<circle cx="106.4" cy="179" r="2.75" fill="#000000"/>
<text y="180.3" font-size="18.2"><tspan x="131.1" font-style="italic">m</tspan><tspan dy="2.6" font-size="12.6" font-style="italic">ν</tspan><tspan dy="-1.4" x="155.5">=</tspan><tspan dy="-1.2" x="170.7">0</tspan><tspan dx="5.5">eV</tspan></text>
<path d="M92.2,205.3 H120.5 M92.2,203.1 v4.4 M120.5,203.1 v4.4" stroke="#0000ff" stroke-width="1" fill="none" opacity="0.85"/>
<circle cx="106.4" cy="205.3" r="2.75" fill="#0000ff"/>
<text y="206.6" font-size="18.2"><tspan x="131.1" font-style="italic">m</tspan><tspan dy="2.6" font-size="12.6" font-style="italic">ν</tspan><tspan dy="-1.4" x="155.5">=</tspan><tspan dy="-1.2" x="170.7">0.17</tspan><tspan dx="5.5">eV</tspan></text>
<path d="M92.2,231.8 H120.5 M92.2,229.6 v4.4 M120.5,229.6 v4.4" stroke="#ff0000" stroke-width="1" fill="none" opacity="0.85"/>
<circle cx="106.4" cy="231.8" r="2.75" fill="#ff0000"/>
<text y="233.1" font-size="18.2"><tspan x="131.1" font-style="italic">m</tspan><tspan dy="2.6" font-size="12.6" font-style="italic">ν</tspan><tspan dy="-1.4" x="155.5">=</tspan><tspan dy="-1.2" x="170.7">0.3</tspan><tspan dx="5.5">eV</tspan></text>
<path d="M92.2,258.1 H120.5 M92.2,255.9 v4.4 M120.5,255.9 v4.4" stroke="#00a800" stroke-width="1" fill="none" opacity="0.85"/>
<circle cx="106.4" cy="258.1" r="2.75" fill="#00a800"/>
<text y="259.4" font-size="18.2"><tspan x="131.1" font-style="italic">m</tspan><tspan dy="2.6" font-size="12.6" font-style="italic">ν</tspan><tspan dy="-1.4" x="155.5">=</tspan><tspan dy="-1.2" x="170.7">0.53</tspan><tspan dx="5.5">eV</tspan></text>
<path d="M518.9,221.6 H546.7" stroke="#111" stroke-width="1.25" fill="none"/>
<path d="M518.9,248.05 H546.7" stroke="#111" stroke-width="1.25" fill="none" stroke-dasharray="5.7,1.8"/>
<text transform="translate(555.2,223.7) skewX(-14) scale(1.22,1.02)" font-size="18.4">σ</text>
<text x="569.5" y="226.1" font-size="13" font-style="italic">cc</text>
<text transform="translate(555.2,250) skewX(-14) scale(1.22,1.02)" font-size="18.4">σ</text>
<text x="569.5" y="252.4" font-size="13" font-style="italic">mm</text>
</svg>
</body></html>
